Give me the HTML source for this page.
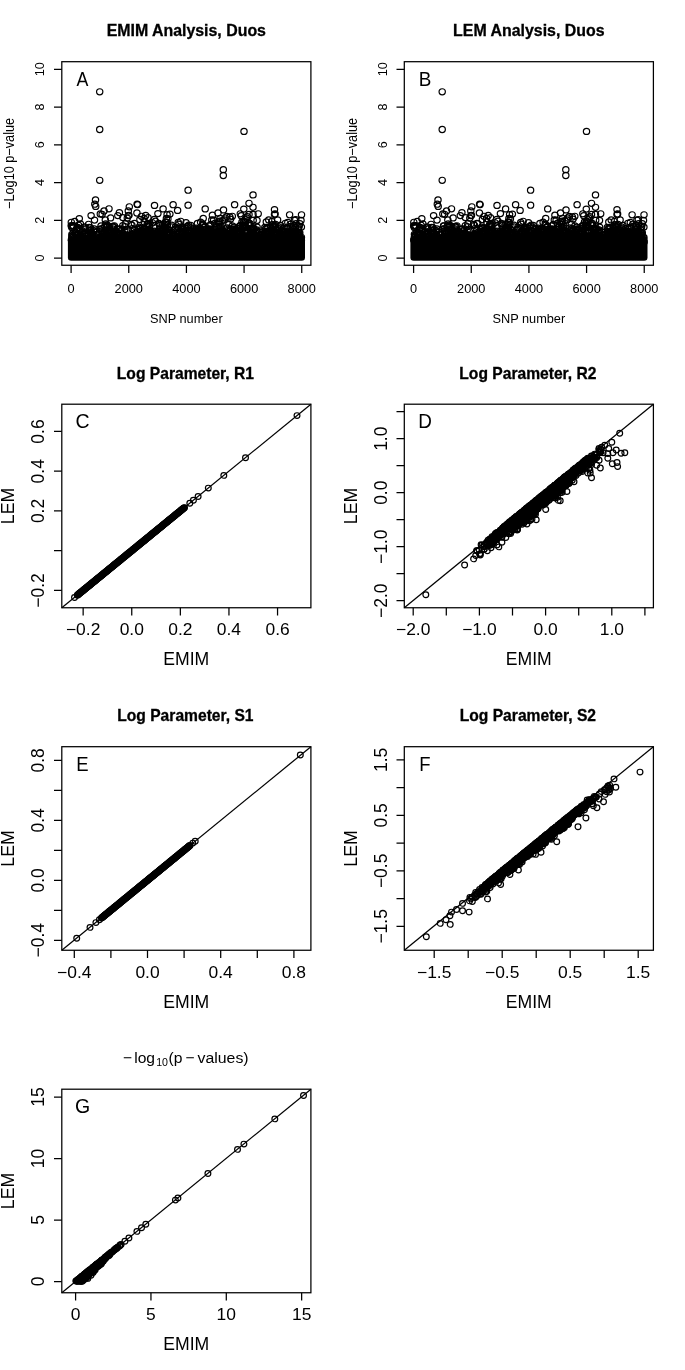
<!DOCTYPE html>
<html lang="en"><head><meta charset="utf-8"><title>EMIM vs LEM analysis, duos</title>
<style>html,body{margin:0;padding:0;background:#fff}svg{display:block}.l{fill:none;stroke:#000;stroke-width:1.25}.p{fill:none;stroke:none;marker-start:url(#c);marker-mid:url(#c);marker-end:url(#c)}.q{fill:none;stroke:none;marker-start:url(#d);marker-mid:url(#d);marker-end:url(#d)}text{font-family:'Liberation Sans', Arial, Helvetica, sans-serif;fill:#000}</style></head><body>
<svg width="685" height="1370" viewBox="0 0 685 1370">
<rect width="685" height="1370" fill="#fff"/>
<defs><marker id="c" markerUnits="userSpaceOnUse" markerWidth="10" markerHeight="10" refX="5" refY="5"><ellipse cx="5" cy="5" rx="3.15" ry="3.05" fill="none" stroke="#000" stroke-width="1.2"/></marker><marker id="d" markerUnits="userSpaceOnUse" markerWidth="10" markerHeight="10" refX="5" refY="5"><ellipse cx="5" cy="5" rx="2.9" ry="2.85" fill="none" stroke="#000" stroke-width="1.2"/></marker></defs>
<rect x="67.9" y="237" width="237.1" height="23.7" rx="3.3" ry="3.3" fill="#000"/>
<polyline class="p" points="71.2,225.7 71.3,222.3 71.4,239.8 71.6,226.1 71.6,240.4 71.8,237.7 71.9,234.3 72.3,235.4 72.3,236.2 72.7,226.2 73.3,236.8 73.4,225.7 74.2,238.4 74.2,237.9 74.9,241.1 75.4,241.7 75.5,232.7 75.7,233.9 76.3,237.1 76.8,228.6 76.9,235.7 77.2,241.9 77.7,234.9 77.8,227.4 78.5,225.2 78.8,240.3 78.9,239.5 79.3,236.5 79.4,230.1 79.5,238.2 79.5,240.9 79.6,238.8 79.6,228.7 79.7,240.7 79.8,238.4 79.8,235.7 80,236.9 80.1,231.3 80.4,224 80.8,239 81.2,237 81.3,240.5 81.4,240 82.3,240.3 82.3,241.8 82.6,231 82.9,232.2 83,238.5 83.4,239.8 83.7,227.8 84.1,241.6 84.3,234 84.7,226.9 84.9,241.3 85.3,236.1 85.4,234.4 85.5,233.4 85.6,240.1 85.6,241.4 85.7,228.9 85.7,239.1 86.2,241.3 86.5,239.4 87,235.2 87.1,241.3 87.5,241.6 88.2,239.7 88.3,233.7 88.5,224.3 88.7,237.7 89.1,234.3 89.2,227.4 89.7,230.9 90.1,239.7 90.1,232.3 90.4,227.7 90.5,230.1 90.5,237.4 90.6,234.3 90.8,241.3 90.9,236 90.9,240.8 91,237.2 91.7,234.1 91.9,232.8 92,240.2 92.7,236.8 92.8,238.5 92.9,236.5 93.2,239.2 93.4,230.6 93.9,230.9 94.1,235.3 94.3,229 94.5,220.1 94.6,240.1 95.2,237.6 95.3,239.6 95.7,241.4 96.2,232.2 96.5,240.6 96.8,234.4 97,240.9 97.4,241.7 98.6,240.3 98.9,241.6 98.9,240.6 99,241.2 99.3,238.2 99.4,240.9 99.6,239.8 99.7,229.2 99.8,240.6 100,241.6 100.1,233.3 100.5,238.6 100.9,240.2 101,225.9 101.5,239.1 101.9,228.7 101.9,232.6 102,239.4 102,230.7 102.1,214.3 102.3,236.4 102.4,238 102.7,238.5 103.1,233.6 103.4,236.5 103.4,238.2 103.4,241.5 103.6,241.7 104.1,233.9 104.2,235.3 104.2,236.7 104.3,239.3 104.7,236.5 104.8,226.5 105.6,241.4 105.7,223.9 105.8,239.5 105.9,241.2 106.6,227.5 106.8,226.5 107.1,225 107.2,238.1 107.6,237.6 108.6,237.7 108.7,234.6 108.8,241 108.8,229.6 109,240.6 109.3,240.1 109.3,227 109.3,229.9 109.5,241.8 109.6,233.6 109.7,239.4 110.1,231.5 110.3,236.3 110.5,233.5 110.7,241.1 111,237.7 111.2,235.5 111.8,241.1 112.2,240.7 112.3,241.4 112.4,238.4 112.5,226.5 112.5,228.9 112.7,234.1 113,236.8 113,227.3 113.2,236.6 113.3,233.7 113.5,226.3 113.6,239 114.2,237.5 114.4,241.9 114.4,225.8 114.6,230.7 114.9,233.1 115.2,235.8 115.6,239.8 115.8,236 116.2,237.1 116.7,232 116.8,241.7 117,234.1 117.2,241.9 117.2,232.5 117.6,238.2 118.3,241.8 118.8,229.1 118.8,235.8 119,241.4 119.5,231.8 119.9,228.9 120.1,233.7 120.7,240.5 121.1,237.6 121.4,241.4 121.5,236.8 121.6,229.9 122.1,239.5 122.1,238 122.3,233.1 122.6,240.2 122.8,225.6 123.4,234.2 123.5,240.5 123.8,235 124.2,237.5 124.3,238.7 124.6,235.6 124.6,241.6 124.7,230.4 124.8,226.7 124.8,237.7 124.9,241.6 125.2,235.1 125.4,223.7 125.9,241.8 126.6,239.2 126.8,238.7 126.9,238.9 127.3,218.1 127.4,235 127.7,239.9 127.8,235.6 127.9,230.8 128.6,240.2 128.8,241.6 129,215.3 129.3,238.4 129.5,236.5 129.7,241.6 129.7,240.2 130.5,236.8 130.5,240.4 131,224.5 131.2,240.3 131.4,237.8 131.5,235.2 131.6,234.1 132,225.3 132.1,241.3 132.2,228.7 132.4,240.3 132.4,234.8 132.4,236.2 132.6,233.9 132.7,239.7 133,241.5 134.4,237.1 134.4,223.5 134.6,229.4 134.8,239.9 134.8,238.6 135.1,240.3 135.2,232.5 135.6,235.7 135.9,236.5 136.7,233.2 136.9,240 137.6,238.3 137.7,238.7 138.2,240.5 138.2,229.5 138.8,237 139,240.6 139.1,227.2 139.3,232.2 139.8,240.9 139.9,228.5 139.9,219.5 139.9,231.3 140.6,230.6 140.8,237.6 141.1,240.5 141.2,232.9 141.2,234.7 141.4,236.9 141.6,230.9 141.8,241.4 141.9,238.5 142.6,241.5 142.6,234 142.7,238.9 142.8,229.6 143,233.7 143.3,241.5 143.6,238.6 143.9,229.5 144,239.2 144.1,228.4 144.1,218.5 144.2,222 144.5,241.7 144.7,234.4 145,234.8 145.1,236.8 145.5,235.9 145.7,235.9 145.7,215.5 145.7,239.6 146.2,240.9 146.3,239.3 146.7,238.3 146.8,235.6 146.9,227.8 146.9,226.5 147,230.9 147.2,224.1 147.3,240.5 147.6,234.8 147.6,239.4 147.7,240.9 147.9,234.9 148.1,224.1 148.2,238.5 148.3,233.6 148.4,238.9 148.6,224.1 148.7,229.9 149.1,234.8 149.2,225.3 149.2,241.7 149.3,238.5 149.5,236.8 149.6,226.2 149.7,230.2 150.3,238.7 150.5,234.5 150.5,231.7 150.6,235.9 151.2,240.5 151.4,233.7 151.8,238.6 152,238.2 152.1,238.9 152.1,241.9 152.3,231.3 152.5,222.8 152.8,232.6 153.2,238.6 153.3,237 153.6,234.8 153.9,233.6 154,241.6 154.3,219.4 154.4,231.2 154.4,241.4 154.6,240.7 154.8,235.8 154.8,240.1 155.2,241.2 155.4,221.2 155.5,239.7 155.8,236.8 156.3,241.2 156.8,235.2 156.8,236.6 156.9,233.3 156.9,240.4 157.1,241.6 157.2,235.9 157.6,240.9 157.7,236.8 158.1,231.3 158.7,234.2 158.7,232.2 158.9,223.4 159,240.7 159,237 159.3,224.2 159.4,237.4 159.5,238.2 159.6,241.3 159.6,238.1 159.6,225.6 159.8,228 159.8,236.7 160,237.4 160.2,231.2 160.4,241.6 160.6,237.1 160.9,234 161.2,236.2 161.2,237.8 161.5,238.1 161.6,233.9 161.7,230.4 161.8,236.1 162.3,234.3 162.7,224.8 162.7,230.3 162.8,240.9 163.1,239.6 163.4,229 163.7,228 163.9,230 164,234.6 164.4,236.9 164.4,225 164.6,240.7 164.8,236.4 164.9,238.1 165,227 165.1,229.4 165.2,235.5 165.4,238 165.5,222.4 165.7,221.9 166,230.4 166,229.9 166.4,218.5 166.6,222.3 167,232.1 167,232.9 167.1,214.6 167.3,239.2 167.4,224.9 167.7,235.2 167.8,240 167.9,218.9 167.9,229.2 168.4,233.6 168.4,239.5 168.5,235.4 168.8,234.6 169,239 169.1,234 169.4,241.6 169.6,241.1 169.6,232.9 169.8,238.7 169.9,214.1 170,233.5 170.1,240.7 170.4,241.2 170.6,241.8 170.9,240.3 170.9,240.9 171.1,238.5 171.3,239.2 171.5,225.1 171.7,227 172.1,238.7 172.2,240.9 172.4,232.9 172.5,239.1 172.5,234.2 173.8,240.4 173.9,236.3 174.1,229.9 174.1,241.9 174.3,237.7 174.4,240.6 174.5,235.9 175.1,228.9 175.1,239.3 175.3,238.3 175.4,227.1 176.1,238.3 176.9,240.2 177.1,236.7 177.1,234.7 177.2,239.3 177.3,241 177.5,237.6 177.9,239.5 178.2,222.4 178.3,241.8 178.3,237.2 178.6,228.2 178.8,239.9 178.8,224.2 178.9,236.9 179,232.2 179.2,240.4 180,241.4 180.1,240.7 180.2,238.8 180.2,240 180.3,232.1 180.7,221.3 181.1,239.9 181.2,238.3 181.2,240.6 181.4,240.9 181.7,231.7 182,227.6 182.1,230 182.3,231.5 182.3,233.7 182.4,228.3 182.5,237.3 183,237.9 183.6,229.5 183.7,241.5 184.2,227.3 184.3,232.5 184.5,239.3 184.8,235.7 185.6,231 185.7,241.3 185.8,241.6 186,222.6 186.1,233.3 186.7,226.6 187.3,240.2 187.7,235 187.8,230.8 188.1,226.3 188.1,232.8 188.4,240 188.6,225.2 188.7,237.4 189.2,236.5 189.2,240.1 189.3,238.8 189.6,238.2 189.6,230.9 189.8,230.4 190.2,235.4 190.3,235.1 190.8,237.9 190.8,225.5 190.9,241 191.1,228 191.3,236.9 191.4,241.1 191.5,238.2 191.8,237.8 191.8,240.7 192.1,239.8 192.6,240.7 192.7,241.2 192.7,229.1 192.9,233.9 193.2,235.9 193.2,236.2 193.3,233.1 193.8,236.7 193.8,234.7 193.9,235.8 193.9,239 194.1,231.4 194.6,235.3 194.8,241.5 194.9,238.1 194.9,239.7 195.3,233.9 195.6,232.7 195.8,234.6 196,229.7 196,228.1 196.5,232 196.8,239.4 196.8,240.6 197.1,236.3 197.4,235 197.4,223.5 197.6,239.8 197.6,241.2 197.8,239.2 197.9,231.9 198,229.8 198,234.3 198.2,236.3 198.3,231.6 198.4,237.4 198.8,233.9 198.9,240.4 198.9,228.9 199.1,230.4 199.9,238.7 200.1,238.9 200.5,237.7 200.6,222.2 200.7,230.7 200.7,235.8 201.1,241.4 201.2,240.3 201.4,237.3 201.5,236.2 202.3,234.9 202.4,241.4 202.7,223.9 202.9,238.9 203,235.1 203,235.7 203.2,234.4 203.2,218.5 203.3,225.1 203.6,229.3 203.9,237.2 204,227.4 204.2,241.4 204.3,234.1 204.4,233.8 204.6,231.3 204.7,240.8 204.7,234.7 204.8,236.7 205,226.4 205.3,239.4 205.7,234.2 205.8,239.6 205.9,229.5 205.9,233.5 206.2,238.3 206.6,235.6 207.3,231 207.9,236.1 208.4,233.9 208.5,236.1 208.6,232.1 208.8,241.2 208.9,225.9 209.1,231 209.1,230.1 209.4,228.8 209.5,234.5 209.5,237.5 209.7,235.9 209.7,241.5 209.8,239.3 210.1,229.4 210.5,239.3 210.7,232.1 210.8,241.7 210.8,239.7 210.9,224.4 211,235.9 211.5,239.4 211.8,220 212,236.3 212.1,230 212.2,241.4 212.4,215.2 212.5,232.7 212.6,237.3 212.7,232.3 212.8,240.5 213.1,231.8 213.3,235.2 213.6,220.1 214,239.3 214.1,234.6 214.3,241.3 214.7,235.2 214.8,229.6 215.1,223.2 215.2,236.6 215.3,237.4 215.5,234.3 215.7,232.9 215.9,233.3 215.9,237.8 216,226.7 216,238.6 216.4,236.5 216.5,238.4 216.6,234.5 216.7,227.3 216.7,232.7 217.1,234.3 217.1,235.3 217.2,241.7 217.4,240.9 218.2,232.4 218.2,235.3 218.4,222.2 218.5,231.4 218.8,228 218.9,234.5 219,223.9 219.2,226.8 219.3,235.6 219.5,241 219.7,221.1 219.8,237.7 220,218.5 220.3,236.8 220.5,227.4 220.7,241.8 220.9,231.6 221.2,226.5 221.4,238.1 221.7,240.7 221.9,232.9 221.9,241.7 222.3,230.2 222.4,220.6 223.2,231.1 223.8,238 224.3,219.9 224.3,235 224.5,236.1 224.8,237.6 225.1,218 225.3,234.2 225.4,236.9 225.6,231.9 225.7,233.4 225.9,238.3 226.2,239.4 226.3,236.6 226.6,240.2 226.9,216.4 227,228 227.7,235.8 228,240.2 228.5,240.5 228.5,234.9 228.8,224.5 228.9,228.7 228.9,237.6 228.9,235.4 229.4,231.5 229.8,217 230,237.9 230.1,239.3 230.2,234.9 230.3,240.4 230.4,229.2 230.5,238.7 230.6,237.6 230.7,240.8 230.8,236.1 230.9,238.1 231.6,239.1 231.6,235.7 231.7,240.2 231.8,235.1 232.2,235.9 232.3,225.9 232.3,216.3 232.5,229.4 232.6,239.5 232.8,236.7 233,233.9 233.1,232 233.6,239.1 233.8,229.6 233.8,232.9 234.1,241.8 234.2,227.1 234.3,236.1 234.4,228.9 234.6,239.4 234.8,236.2 235.3,230.1 235.5,238.8 235.7,240.8 235.7,239.7 236.5,238.3 236.7,234.4 236.9,241.8 237.4,241.6 237.4,231.9 237.8,233.1 237.8,237.4 237.9,240 238.3,236.5 238.3,232.9 238.5,234.4 238.8,231.5 239.2,234.1 239.2,231 239.5,226.2 239.7,236.9 240,236.2 240,241.9 240,228.1 240.2,241.8 240.3,213.8 240.4,226 240.6,225.1 240.7,240.4 240.9,239.6 241,234.8 241.1,236.3 241.3,239.2 241.5,238.1 241.5,237.1 241.5,229 242,222 242.8,241.9 242.9,239.6 243,237.9 243.2,227 243.2,241.9 243.2,224.9 243.4,240.7 243.7,240.4 243.8,238.3 243.8,221.2 243.9,237 244.1,221.7 244.1,236.5 244.3,226.2 244.4,227.6 244.6,237.7 244.7,241.8 244.9,225.6 245.6,222 245.7,232 245.8,227.4 245.8,230 246.2,240 246.3,218 246.9,227.7 247,238.4 247.3,216.6 247.4,235.8 247.5,231.7 247.6,241.1 247.7,239.4 247.9,236.5 248.3,241.7 248.4,224.9 248.6,237.5 248.7,223 248.8,239.8 248.9,232.2 249,241 249.1,238.3 249.2,240.2 249.3,235.9 249.5,237.1 249.9,225.6 250,223.7 250.1,229.4 250.5,229.7 250.6,236 250.9,228.3 251.6,228.3 251.6,233.6 252.4,232.2 252.8,239.1 252.9,234.2 253.1,237 253.2,220.3 253.3,232.6 253.3,231.9 253.5,229.1 253.5,227.9 253.6,237.1 253.6,239.4 254.3,234.3 254.3,237.7 254.3,238.1 254.5,240.4 254.6,241.1 255.1,238.6 255.2,241 256.1,236.4 256.2,233.1 256.4,231.2 256.6,240.7 256.7,230 256.8,230.8 257,220.4 257.1,227.1 257.1,238.6 258.3,236.7 258.8,234.6 259.2,232.1 259.6,241.5 259.9,237.4 259.9,239.9 259.9,240.5 260.9,234.5 261.1,236 261.1,234.6 261.5,240.9 261.7,240.4 262,237.9 262.1,239.2 262.3,238.2 262.6,234.3 262.7,231.8 262.8,241.5 262.9,240.9 263.3,238.3 264,237.5 264.2,240.2 264.3,236.1 264.7,241.7 264.8,241 264.8,227.5 265,238.8 265.4,239.3 265.5,231.4 265.6,239.7 265.6,228.9 266,237.3 266.3,222 266.5,232.7 266.8,233.9 266.9,241.4 266.9,227.4 267.2,238.2 267.3,234.6 267.4,238.8 267.5,237.7 267.6,236.4 267.7,228.4 267.8,241.6 267.9,239.9 268.4,239.7 268.5,231.5 268.6,240.2 268.6,237.3 268.7,219.9 268.8,230.6 269.2,231.8 269.3,236.1 269.5,234.6 269.5,241.7 269.7,237.4 270.3,241.2 270.5,238.8 270.7,238.2 271,241.5 271.1,240.3 271.3,233.6 271.4,230.3 271.7,228.7 271.8,221.4 272.1,237.9 272.2,236.4 272.3,231.9 272.5,224.6 272.7,226.1 272.7,239.9 273.1,239.8 273.3,226.9 273.4,230.1 273.7,233.4 273.7,235.8 273.8,237.3 273.9,234.6 274,241.5 274.2,225.4 274.3,239.5 274.9,241.1 275.1,214 275.2,227.9 275.6,224.4 276,229.6 276.7,231.8 276.8,233.4 276.9,234.2 277,238.4 277.1,239 277.3,241.1 277.6,220 277.8,238.2 278.2,239.8 278.5,237.3 278.7,241 278.9,227 279,230.3 279.1,239.7 279.1,228.8 279.1,237.5 279.2,238.1 279.3,237 279.5,228.9 279.7,232.1 279.8,241.9 280,232.7 280.4,241.3 280.6,225.5 281,231.5 281.1,239.3 281.1,237.7 281.7,231.8 282,241.7 282.1,231.8 282.5,234.6 282.7,236.6 282.7,241.6 282.9,231.1 283.1,228.7 283.5,239.3 283.6,241.5 283.6,232 283.7,235.8 283.8,234.4 283.8,239.4 284.2,234.8 284.9,240.2 285,235.4 285.2,240 285.3,223.3 285.8,241.2 285.9,231.4 285.9,234 286.1,234.6 286.2,235.6 286.3,233.1 286.5,237.3 286.5,237.2 286.8,236.4 286.9,227.3 286.9,235.5 286.9,239.7 287.1,237.3 287.2,235.7 287.6,239.2 287.7,228.2 287.8,222.5 287.8,237.5 288,232.5 288.3,233.9 288.7,241 289.4,232.3 289.6,214.8 289.7,238.5 289.8,241.9 289.9,241.4 290.2,224.3 290.6,235.5 290.7,226.5 290.8,234 290.9,240.2 291,238.4 291.5,240.2 291.6,237 291.6,238.2 291.7,235.5 291.9,241.2 292.4,232.2 292.5,227.9 292.5,238.8 292.6,235 292.9,241.2 293.3,235.5 293.4,230 293.5,235.2 293.8,238.4 293.9,232.3 293.9,240 294,226 294,241.3 294.2,235.4 294.3,238.8 294.3,234.4 294.4,220.1 294.7,240.1 295.2,227.5 295.2,237.3 295.3,231.5 295.3,239.4 295.5,240.5 295.5,231.2 295.6,236.9 296.1,223.7 296.2,232 297.1,238.3 297.2,236.4 297.9,240.5 298,235.7 298.2,230 298.3,238.5 298.5,241.3 298.5,227.8 298.6,237.4 298.8,235.7 298.8,233.8 298.9,234.9 299.1,226.4 299.1,241.7 299.2,233.5 299.3,239.9 299.8,223.7 299.8,233 300,240.3 300.3,240 300.9,238.1 301,239.4 301,241.9 301.4,227.1 301.4,237.5 301.5,214.8 99.7,91.8 99.7,129.5 99.7,180.3 244,131.4 95.5,199.9 94.8,204.2 95.7,206.4 100.3,213.9 104,211 109,208.8 79.3,218.6 74.7,221.5 71.8,227.5 91.1,215.6 105.3,220 110.6,217.9 119.4,212.6 117.8,215.6 122.8,217.6 129.3,206.8 137.1,204.2 137.6,204.6 128.3,211 128.3,215.6 136.9,213 141.5,216.3 148,217.6 223.3,169.7 223.3,175.5 188.1,190.2 188.1,205.2 253,194.9 249,203.3 253,207.3 234.6,204.7 223.5,209.9 218,213 205.2,208.9 173.1,204.7 177.6,210.4 154.5,205.4 163.1,208.9 157.9,213.6 243.8,209.1 274.5,209.6 274.5,214.4 258.2,213.8 295.8,219.6 301,220.4 230.6,219.1 241.2,215.7 245.1,219.6 249,214.4 253,214.4"/>
<rect x="61.8" y="61.7" width="249.1" height="203.55" class="l"/>
<path d="M71.1 265.25v7.8M128.76 265.25v7.8M186.42 265.25v7.8M244.08 265.25v7.8M301.74 265.25v7.8" class="l"/>
<text transform="translate(71.1 292.8) scale(0.998 1)" font-size="12.8" text-anchor="middle">0</text>
<text transform="translate(128.76 292.8) scale(0.998 1)" font-size="12.8" text-anchor="middle">2000</text>
<text transform="translate(186.42 292.8) scale(0.998 1)" font-size="12.8" text-anchor="middle">4000</text>
<text transform="translate(244.08 292.8) scale(0.998 1)" font-size="12.8" text-anchor="middle">6000</text>
<text transform="translate(301.74 292.8) scale(0.998 1)" font-size="12.8" text-anchor="middle">8000</text>
<path d="M61.8 258h-7.8M61.8 220.26h-7.8M61.8 182.52h-7.8M61.8 144.78h-7.8M61.8 107.04h-7.8M61.8 69.3h-7.8" class="l"/>
<text transform="translate(44.4 258) scale(1.05 1) rotate(-90)" font-size="12.6" text-anchor="middle">0</text>
<text transform="translate(44.4 220.26) scale(1.05 1) rotate(-90)" font-size="12.6" text-anchor="middle">2</text>
<text transform="translate(44.4 182.52) scale(1.05 1) rotate(-90)" font-size="12.6" text-anchor="middle">4</text>
<text transform="translate(44.4 144.78) scale(1.05 1) rotate(-90)" font-size="12.6" text-anchor="middle">6</text>
<text transform="translate(44.4 107.04) scale(1.05 1) rotate(-90)" font-size="12.6" text-anchor="middle">8</text>
<text transform="translate(44.4 69.3) scale(1.05 1) rotate(-90)" font-size="12.6" text-anchor="middle">10</text>
<text transform="translate(186.3 36.05) scale(0.982 1)" font-size="16.2" text-anchor="middle" font-weight="bold" stroke="#000" stroke-width="0.3">EMIM Analysis, Duos</text>
<text transform="translate(186.3 322.7) scale(0.998 1)" font-size="12.8" text-anchor="middle">SNP number</text>
<text transform="translate(14.1 163.4) scale(1.08 1) rotate(-90)" font-size="12.7" text-anchor="middle">−Log10 p−value</text>
<text transform="translate(82.5 85.8) scale(0.85 1)" font-size="21" text-anchor="middle">A</text>
<rect x="410.4" y="237" width="237.1" height="23.7" rx="3.3" ry="3.3" fill="#000"/>
<polyline class="p" points="413.7,225.7 413.8,222.3 413.9,239.8 414.1,226.1 414.1,240.4 414.3,237.7 414.4,234.3 414.8,235.4 414.8,236.2 415.2,235.3 415.2,226.2 415.8,236.8 415.9,225.7 416.7,238.4 416.7,237.9 417.4,241.1 417.9,241.7 418,232.7 418.2,233.9 418.8,233.9 418.8,237.1 419.3,228.6 419.4,235.7 419.7,241.9 420.2,234.9 420.3,227.4 421,225.2 421.3,240.3 421.4,239.5 421.8,236.5 421.9,230.1 422,238.2 422,240.9 422.1,238.8 422.1,228.7 422.2,240.7 422.3,238.4 422.3,235.7 422.5,236.9 422.6,231.3 422.9,224 423.3,239 423.7,237 423.8,240.5 423.9,240 424.3,239.9 424.8,240.3 424.8,241.8 425.1,231 425.4,232.2 425.5,238.5 425.9,239.8 426.2,227.8 426.6,241.6 426.8,234 427.2,226.9 427.4,241.3 427.8,236.1 427.9,234.4 428,233.4 428.1,240.1 428.1,241.4 428.2,228.9 428.2,239.1 428.7,241.3 429,239.4 429.5,235.2 429.6,241.3 430,241.6 430.7,239.7 430.8,233.7 431,224.3 431.2,237.7 431.6,234.3 431.7,227.4 432.2,230.9 432.6,239.7 432.6,232.3 432.9,227.7 433,230.1 433,237.4 433.1,234.3 433.3,241.3 433.4,236 433.4,240.8 433.5,237.2 434.2,234.1 434.4,232.8 434.5,240.2 435.2,236.8 435.3,238.5 435.4,236.5 435.7,239.2 435.9,230.6 436.4,230.9 436.6,235.3 436.8,229 437,220.1 437.1,240.1 437.7,237.6 437.8,239.6 438.2,241.4 438.2,241.2 438.7,232.2 439,240.6 439.3,234.4 439.5,240.9 439.9,241.7 441.1,240.3 441.4,241.6 441.5,241.2 441.8,238.2 441.9,240.9 442.1,239.8 442.2,229.2 442.3,240.6 442.5,241.6 442.6,233.3 443,238.6 443.4,240.2 443.5,225.9 443.8,225.9 444,239.1 444.4,228.7 444.4,232.6 444.5,239.4 444.5,230.7 444.6,214.3 444.8,236.4 444.9,238 445.2,238.5 445.6,233.6 445.9,236.5 445.9,241.5 446,236.3 446.1,241.7 446.6,233.9 446.7,235.3 446.7,236.7 446.8,239.3 447.2,236.5 447.3,226.5 448.1,241.4 448.2,223.9 448.3,239.5 449.1,227.5 449.3,226.5 449.6,225 449.7,238.1 450.1,237.6 451.1,237.7 451.2,234.6 451.3,241 451.3,229.6 451.5,240.6 451.8,240.1 451.8,227 451.8,229.9 452,241.8 452.1,233.6 452.2,239.4 452.3,233.5 452.6,231.5 452.8,236.3 453,233.5 453.2,241.1 453.5,237.7 453.6,241.3 453.7,235.5 453.8,237.5 454.7,240.7 454.8,241.4 454.9,238.4 455,226.5 455,228.9 455.2,234.1 455.5,236.8 455.5,227.3 455.7,236.6 455.8,233.7 456,226.3 456.1,239 456.7,237.5 456.9,241.9 456.9,225.8 457.1,230.7 457.4,233.1 457.7,235.8 458.1,239.8 458.3,236 458.7,237.1 459.2,232 459.3,241.7 459.5,234.1 459.7,232.5 460.1,238.2 460.8,241.8 461.3,229.1 461.3,235.8 461.4,241.8 461.5,241.4 462,231.8 462.4,228.9 462.6,233.7 463.2,240.5 463.6,237.6 463.9,241.4 464,236.8 464.1,229.9 464.6,239.5 464.6,238 464.8,233.1 465.1,240.2 465.3,225.6 465.9,234.2 466,240.5 466.3,235 466.7,237.5 466.8,238.7 467.1,235.6 467.1,241.6 467.2,230.4 467.3,226.7 467.3,237.7 467.7,235.1 467.9,223.7 468.4,241.8 469.1,239.2 469.3,238.7 469.8,218.1 469.9,235 470.2,239.9 470.3,235.6 470.4,230.8 471.1,240.2 471.3,241.6 471.5,215.3 471.8,238.4 471.9,238.3 472,236.5 472.2,241.6 472.2,240.2 473,236.8 473,240.4 473.5,224.5 473.7,240.3 473.9,237.8 474,235.2 474.1,234.1 474.5,225.3 474.6,241.3 474.7,228.7 474.9,240.3 474.9,234.8 474.9,236.2 475.1,233.9 475.2,239.7 475.5,241.5 476.9,237.1 476.9,223.5 477.1,229.4 477.3,239.9 477.3,238.6 477.6,223.7 477.6,240.3 477.7,232.5 478.1,235.7 478.4,236.5 479.2,233.2 479.4,240 480.1,238.3 480.2,238.7 480.7,240.5 480.7,229.5 481.3,237 481.5,240.6 481.6,227.2 481.8,232.2 482.3,240.9 482.4,228.5 482.4,219.5 482.4,231.3 483.1,230.6 483.3,237.6 483.6,240.5 483.7,232.9 483.7,234.7 483.7,240.2 483.9,236.9 484.1,230.9 484.3,241.4 484.4,238.5 485.1,241.5 485.1,234 485.2,238.9 485.3,229.6 485.5,233.7 485.8,241.5 486.1,238.6 486.4,229.5 486.5,239.2 486.6,228.4 486.6,238.8 486.6,218.5 486.7,222 487,241.7 487.2,234.4 487.5,234.8 487.6,236.8 488,237.1 488,235.9 488.2,215.5 488.2,239.6 488.7,240.9 488.8,239.3 489.2,238.3 489.3,235.6 489.4,227.8 489.4,226.5 489.5,230.9 489.7,224.1 489.8,240.5 490.1,234.8 490.1,239.4 490.2,240.9 490.6,224.1 490.7,238.5 490.8,233.6 490.9,238.9 491.1,224.1 491.2,229.9 491.6,234.8 491.7,225.3 491.7,241.7 491.8,238.5 492,236.8 492.1,226.2 492.2,230.2 492.8,238.7 493,234.5 493,231.7 493.1,235.9 493.7,240.5 493.9,233.7 494.3,238.6 494.6,238.9 494.6,241.9 494.8,231.3 495,222.8 495.3,232.6 495.7,238.6 495.8,237 496.1,234.8 496.4,233.6 496.5,241.6 496.8,219.4 496.9,231.2 496.9,241.4 497.1,240.7 497.3,235.8 497.7,241.2 497.9,221.2 498,239.7 498.3,236.8 498.8,241.2 499.3,235.2 499.3,236.6 499.4,233.3 499.4,240.4 499.6,241.6 499.7,235.9 500,235.9 500.1,240.9 500.2,236.8 500.6,231.3 501.2,234.2 501.2,232.2 501.4,223.4 501.5,240.7 501.5,237 501.8,224.2 501.9,237.4 502,238.2 502.1,241.3 502.1,225.6 502.3,228 502.3,236.7 502.7,231.2 502.9,241.6 503.1,237.1 503.4,234 503.7,236.2 503.7,237.8 504,238.1 504.1,233.9 504.2,230.4 504.3,236.1 504.8,234.3 505.2,224.8 505.2,230.3 505.3,240.9 505.6,239.6 505.9,229 506.2,228 506.4,230 506.5,234.6 506.9,236.9 506.9,225 507.1,240.7 507.3,236.4 507.4,238.1 507.5,227 507.6,229.4 507.7,235.5 507.9,238 508,222.4 508.2,221.9 508.5,230.4 508.5,229.9 508.9,218.5 509.1,222.3 509.5,232.1 509.5,232.9 509.6,214.6 509.8,233 509.8,239.2 509.9,224.9 510.2,235.2 510.3,240 510.4,218.9 510.4,229.2 510.9,233.6 511,235.4 511.3,234.6 511.5,239 511.6,234 511.7,234.7 511.9,241.6 512.1,241.1 512.1,232.9 512.3,238.7 512.4,214.1 512.5,233.5 512.6,240.7 512.9,241.2 513.1,241.8 513.3,240.2 513.4,240.9 513.6,238.5 513.8,239.2 514,225.1 514.2,227 514.6,238.7 514.7,240.9 514.9,232.9 515,234.2 515.3,234.2 516.3,240.4 516.4,236.3 516.6,229.9 516.6,241.9 516.6,240.1 516.8,237.7 517,235.9 517.6,228.9 517.6,239.3 517.8,238.3 517.9,227.1 518.6,238.3 519.4,240.2 519.6,236.7 519.6,234.7 519.7,239.3 519.8,241 520,237.6 520.2,235.1 520.4,239.5 520.7,222.4 520.8,241.8 520.8,237.2 521.1,228.2 521.3,239.9 521.3,224.2 521.5,232.2 521.5,237.1 521.7,240.4 522.5,241.4 522.6,240.7 522.7,238.8 522.7,240 522.8,232.1 523,241 523.2,221.3 523.6,239.9 523.7,238.3 523.7,240.6 523.9,240.9 524.2,231.7 524.5,227.6 524.6,230 524.8,231.5 524.8,233.7 524.9,228.3 525,237.3 525.5,237.9 526.1,229.5 526.2,241.5 526.7,227.3 526.8,232.5 527,239.3 527.3,235.7 528.1,231 528.2,241.3 528.3,241.6 528.5,222.6 528.6,233.3 529.2,226.6 529.8,240.2 530.2,235 530.3,230.8 530.6,226.3 530.6,232.8 530.9,240 531.1,225.2 531.2,237.4 531.3,237.5 531.7,236.5 531.7,240.1 531.8,238.8 532.1,238.2 532.1,230.9 532.7,235.4 532.8,235.1 533.3,237.9 533.3,225.5 533.4,241 533.5,237.8 533.6,228 533.8,236.9 534,238.2 534.3,237.8 534.3,240.7 534.6,239.8 535.1,240.7 535.2,241.2 535.2,229.1 535.4,233.9 535.7,235.9 535.7,236.2 535.8,233.1 536.3,236.7 536.3,234.7 536.3,236.4 536.4,235.8 536.4,239 536.6,231.4 537,231.1 537.1,235.3 537.3,241.5 537.4,238.1 537.4,239.7 537.7,239.9 537.8,233.9 538.1,232.7 538.3,234.6 538.5,229.7 538.5,228.1 539,232 539.3,239.4 539.3,240.6 539.6,236.3 539.9,235 539.9,223.5 540.1,239.8 540.1,241.2 540.3,239.2 540.4,231.9 540.5,229.8 540.5,234.3 540.7,236.3 540.8,231.6 540.9,237.4 541.3,233.9 541.4,240.4 541.4,228.9 541.6,230.4 542.4,238.7 542.6,238.9 543,237.7 543.1,222.2 543.2,230.7 543.2,235.8 543.4,230.7 543.6,241.4 543.7,240.3 543.9,237.3 544,236.2 544.8,234.9 544.9,241.4 545.2,223.9 545.4,238.9 545.5,235.1 545.5,235.7 545.7,234.4 545.7,218.5 545.8,225.1 546.1,229.3 546.4,237.2 546.5,227.4 546.7,241.4 546.8,234.1 546.9,233.8 547.1,231.3 547.2,240.8 547.2,234.7 547.3,236.7 547.5,226.4 547.8,239.4 548.2,234.2 548.3,239.6 548.4,229.5 548.4,233.5 548.7,238.3 549.1,235.6 549.8,231 550.4,236.1 550.9,233.9 551,236.1 551.1,232.1 551.3,241.2 551.4,225.9 551.6,231 551.6,230.1 551.8,241.5 551.9,228.8 552,234.5 552,237.5 552.2,235.9 552.2,241.5 552.3,239.3 552.6,229.4 553,239.3 553.2,232.1 553.3,241.7 553.3,239.7 553.4,224.4 553.5,235.9 554,239.4 554.3,220 554.5,236.3 554.6,230 554.7,241.4 554.9,215.2 555,232.7 555.1,237.3 555.2,232.3 555.3,240.5 555.8,235.2 556.1,220.1 556.5,239.3 556.6,234.6 556.8,241.3 557.2,235.2 557.3,229.6 557.6,223.2 557.7,236.6 557.8,237.4 558,234.3 558.2,232.9 558.4,233.3 558.4,237.8 558.5,226.7 558.5,238.6 558.9,236.5 559,238.4 559.1,234.5 559.2,227.3 559.2,232.7 559.6,234.3 559.6,235.3 559.7,241.7 559.9,240.9 560.7,232.4 560.7,235.3 560.9,222.2 561,231.4 561.3,228 561.4,234.5 561.5,223.9 561.7,226.8 561.8,235.6 562,241 562.2,221.1 562.3,237.7 562.5,218.5 562.8,236.8 563,227.4 563.2,241.8 563.4,231.6 563.7,226.5 563.9,238.1 564.2,240.7 564.4,232.9 564.4,241.7 564.8,230.2 564.9,220.6 565.7,231.1 566.3,238 566.8,219.9 566.8,235 567,236.1 567.3,237.6 567.6,218 567.8,234.2 567.9,236.9 568.1,231.9 568.2,233.4 568.4,238.3 568.7,239.4 568.8,236.6 569.1,240.2 569.4,216.4 569.5,228 570.2,235.8 570.5,240.2 571,240.5 571,234.9 571.3,224.5 571.4,228.7 571.4,237.6 571.4,235.4 571.9,231.5 572.3,217 572.5,237.9 572.6,239.3 572.7,234.9 572.8,240.4 572.9,229.2 573,238.7 573.1,237.6 573.2,240.8 573.3,236.1 573.4,238.1 574.1,239.1 574.1,235.7 574.2,240.2 574.3,235.1 574.7,235.9 574.8,225.9 574.8,216.3 575,229.4 575.1,239.5 575.3,236.7 575.5,233.9 575.5,239.5 575.6,232 576.1,239.1 576.3,229.6 576.3,232.9 576.6,241.8 576.7,227.1 576.8,236.1 576.9,228.9 577.1,239.4 577.3,236.2 577.8,230.1 578,238.8 578.2,240.8 578.2,239.7 579,238.3 579.2,234.4 579.4,241.8 579.7,241.5 579.9,231.9 580.3,233.1 580.3,237.4 580.4,240 580.8,236.5 580.8,232.9 581,234.4 581.3,231.5 581.7,234.1 581.7,231 582,226.2 582.2,236.9 582.5,236.2 582.5,241.9 582.5,228.1 582.8,213.8 582.9,226 583.1,225.1 583.2,240.4 583.4,239.6 583.5,234.8 583.6,236.3 583.8,239.2 584,238.1 584,237.1 584,229 584.5,222 585.3,241.9 585.4,239.6 585.5,237.9 585.7,227 585.7,224.9 585.9,240.7 586.3,238.3 586.3,221.2 586.4,237 586.6,221.7 586.6,236.5 586.8,226.2 586.9,227.6 587.1,237.7 587.2,241.8 587.4,225.6 587.5,237.4 588.1,222 588.2,232 588.3,227.4 588.3,230 588.7,240 588.8,218 589.4,227.7 589.5,238.4 589.8,216.6 589.9,235.8 590,231.7 590.1,241.1 590.2,239.4 590.4,236.5 590.8,241.7 590.9,224.9 591.1,237.5 591.2,223 591.3,239.8 591.4,232.2 591.5,241 591.6,241.2 591.6,238.3 591.7,240.2 591.8,235.9 592,237.1 592.4,225.6 592.5,223.7 592.6,229.4 593,229.7 593.1,236 593.4,228.3 594.1,228.3 594.1,233.6 594.9,232.2 595.3,239.1 595.4,234.2 595.6,237 595.7,220.3 595.8,232.6 595.8,231.9 596,229.1 596,227.9 596.1,237.1 596.1,239.4 596.8,234.3 596.8,237.7 596.8,238.1 597,240.4 597.1,241.1 597.6,238.6 598.6,236.4 598.7,233.1 598.9,231.2 599.1,240.7 599.2,230 599.3,230.8 599.5,220.4 599.6,227.1 599.6,238.6 600.8,236.7 601.3,234.6 601.7,232.1 602.1,241.5 602.4,237.4 602.4,239.9 602.4,240.5 603.4,234.5 603.6,236 603.6,234.6 604,240.9 604.2,240.4 604.5,237.9 604.6,239.2 604.8,238.2 605.1,234.3 605.2,231.8 605.3,241.5 605.4,240.9 605.8,238.3 606.5,237.5 606.7,240.2 606.8,236.1 607.2,241.7 607.3,241 607.3,227.5 607.5,238.8 607.9,239.3 608,231.4 608.1,239.7 608.1,228.9 608.5,237.3 608.8,222 609,232.7 609.3,233.9 609.4,241.4 609.4,227.4 609.7,238.2 609.8,234.6 609.9,238.8 610,237.7 610.1,236.4 610.2,228.4 610.3,241.6 610.4,239.9 610.6,241.7 611,231.5 611.1,240.2 611.1,237.3 611.2,219.9 611.3,230.6 611.7,231.8 611.8,236.1 612,234.6 612,241.7 612.2,237.4 612.7,237.8 612.8,241.2 613,238.8 613.2,238.2 613.4,238.8 613.5,241.5 613.6,240.3 613.8,233.6 613.9,230.3 614.2,228.7 614.3,221.4 614.6,237.9 614.7,236.4 614.8,231.9 615,224.6 615.2,226.1 615.2,239.9 615.5,239.6 615.8,226.9 615.9,230.1 616.2,233.4 616.2,235.8 616.3,237.3 616.4,234.6 616.5,241.5 616.7,225.4 616.8,239.5 617.4,241.1 617.6,214 617.7,227.9 618.1,224.4 618.5,229.6 619.2,231.8 619.3,233.4 619.4,234.2 619.5,238.4 619.6,239 619.8,241.1 620.1,220 620.3,238.2 620.7,239.8 621,237.3 621.2,241 621.4,227 621.5,230.3 621.6,239.7 621.6,228.8 621.6,237.5 621.7,238.1 621.8,237 622,228.9 622.2,232.1 622.3,241.9 622.5,232.7 622.9,241.3 623.1,225.5 623.5,231.5 623.6,239.3 623.6,237.7 624.2,231.8 624.5,241.7 624.6,231.8 625,234.6 625.2,236.6 625.2,241.6 625.4,231.1 625.6,228.7 626,239.3 626.1,241.5 626.1,232 626.2,235.8 626.3,234.4 626.7,234.8 627.4,240.2 627.5,235.4 627.7,240 627.8,223.3 628.3,241.2 628.4,231.4 628.4,234 628.6,234.6 628.7,235.6 628.8,233.1 629,237.3 629,237.2 629.3,236.4 629.4,227.3 629.4,235.5 629.4,239.7 629.6,237.3 630.1,239.2 630.2,228.2 630.3,222.5 630.3,237.5 630.5,232.5 630.8,233.9 631.2,241 631.9,232.3 632.1,214.8 632.2,238.5 632.3,241.9 632.4,241.4 632.7,224.3 633.1,235.5 633.2,226.5 633.3,234 633.4,240.2 633.5,238.4 633.6,234 634,240.2 634.1,237 634.1,238.2 634.2,235.5 634.4,241.2 634.9,232.2 635,227.9 635,238.8 635.1,235 635.4,241.2 635.8,235.5 635.9,230 636.3,238.4 636.4,232.3 636.4,240 636.5,226 636.5,241.3 636.7,235.4 636.8,238.8 636.8,234.4 636.9,220.1 637.1,238.7 637.2,240.1 637.7,227.5 637.7,237.3 637.8,231.5 637.8,239.4 638,240.5 638.1,236.9 638.6,223.7 638.7,232 639.6,238.3 639.7,236.4 640.4,240.5 640.5,235.7 640.7,230 640.8,238.5 641,241.3 641,227.8 641.1,237.4 641.3,235.7 641.3,233.8 641.4,238.1 641.4,234.9 641.6,226.4 641.6,241.7 641.7,233.5 641.8,239.9 642.3,223.7 642.3,233 642.5,240.3 642.8,240 643.4,238.1 643.5,239.4 643.5,241.9 643.9,227.1 643.9,237.5 644,214.8 644.1,241.9 442.2,91.8 442.2,129.5 442.2,180.3 586.5,131.4 438,199.9 437.3,204.2 438.2,206.4 442.8,213.9 446.5,211 451.5,208.8 421.8,218.6 417.2,221.5 414.3,227.5 433.6,215.6 447.8,220 453.1,217.9 461.9,212.6 460.3,215.6 465.3,217.6 471.8,206.8 479.6,204.2 480.1,204.6 470.8,211 470.8,215.6 479.4,213 484,216.3 490.5,217.6 565.8,169.7 565.8,175.5 530.6,190.2 530.6,205.2 595.5,194.9 591.5,203.3 595.5,207.3 577.1,204.7 566,209.9 560.5,213 547.7,208.9 515.6,204.7 520.1,210.4 497,205.4 505.6,208.9 500.4,213.6 586.3,209.1 617,209.6 617,214.4 600.7,213.8 638.3,219.6 643.5,220.4 573.1,219.1 583.7,215.7 587.6,219.6 591.5,214.4 595.5,214.4"/>
<rect x="404.3" y="61.7" width="249.1" height="203.55" class="l"/>
<path d="M413.6 265.25v7.8M471.26 265.25v7.8M528.92 265.25v7.8M586.58 265.25v7.8M644.24 265.25v7.8" class="l"/>
<text transform="translate(413.6 292.8) scale(0.998 1)" font-size="12.8" text-anchor="middle">0</text>
<text transform="translate(471.26 292.8) scale(0.998 1)" font-size="12.8" text-anchor="middle">2000</text>
<text transform="translate(528.92 292.8) scale(0.998 1)" font-size="12.8" text-anchor="middle">4000</text>
<text transform="translate(586.58 292.8) scale(0.998 1)" font-size="12.8" text-anchor="middle">6000</text>
<text transform="translate(644.24 292.8) scale(0.998 1)" font-size="12.8" text-anchor="middle">8000</text>
<path d="M404.3 258h-7.8M404.3 220.26h-7.8M404.3 182.52h-7.8M404.3 144.78h-7.8M404.3 107.04h-7.8M404.3 69.3h-7.8" class="l"/>
<text transform="translate(386.9 258) scale(1.05 1) rotate(-90)" font-size="12.6" text-anchor="middle">0</text>
<text transform="translate(386.9 220.26) scale(1.05 1) rotate(-90)" font-size="12.6" text-anchor="middle">2</text>
<text transform="translate(386.9 182.52) scale(1.05 1) rotate(-90)" font-size="12.6" text-anchor="middle">4</text>
<text transform="translate(386.9 144.78) scale(1.05 1) rotate(-90)" font-size="12.6" text-anchor="middle">6</text>
<text transform="translate(386.9 107.04) scale(1.05 1) rotate(-90)" font-size="12.6" text-anchor="middle">8</text>
<text transform="translate(386.9 69.3) scale(1.05 1) rotate(-90)" font-size="12.6" text-anchor="middle">10</text>
<text transform="translate(528.8 36.05) scale(0.982 1)" font-size="16.2" text-anchor="middle" font-weight="bold" stroke="#000" stroke-width="0.3">LEM Analysis, Duos</text>
<text transform="translate(528.8 322.7) scale(0.998 1)" font-size="12.8" text-anchor="middle">SNP number</text>
<text transform="translate(356.6 163.4) scale(1.08 1) rotate(-90)" font-size="12.7" text-anchor="middle">−Log10 p−value</text>
<text transform="translate(425 85.8) scale(0.9 1)" font-size="21" text-anchor="middle">B</text>
<line x1="61.8" y1="607.75" x2="310.9" y2="404.2" class="l"/>
<polyline class="q" points="74.5,597.5 77.3,595.2 77.7,594.9 78.2,594.5 78.6,594.2 79,593.8 79.4,593.5 79.8,593.1 80.3,592.8 80.7,592.4 81.1,592.1 81.5,591.8 82,591.4 82.4,591.1 82.8,590.7 83.2,590.4 83.6,590 84.1,589.7 84.5,589.3 84.9,589 85.3,588.7 85.8,588.3 86.2,588 86.6,587.6 87,587.3 87.4,586.9 87.9,586.6 88.3,586.2 88.7,585.9 89.1,585.5 89.6,585.2 90,584.9 90.4,584.5 90.8,584.2 91.2,583.8 91.7,583.5 92.1,583.1 92.5,582.8 92.9,582.4 93.4,582.1 93.8,581.8 94.2,581.4 94.6,581.1 95,580.7 95.5,580.4 95.9,580 96.3,579.7 96.7,579.3 97.1,579 97.6,578.6 98,578.3 98.4,578 98.8,577.6 99.3,577.3 99.7,576.9 100.1,576.6 100.5,576.2 100.9,575.9 101.4,575.5 101.8,575.2 102.2,574.9 102.6,574.5 103.1,574.2 103.5,573.8 103.9,573.5 104.3,573.1 104.7,572.8 105.2,572.4 105.6,572.1 106,571.7 106.4,571.4 106.9,571.1 107.3,570.7 107.7,570.4 108.1,570 108.5,569.7 109,569.3 109.4,569 109.8,568.6 110.2,568.3 110.6,568 111.1,567.6 111.5,567.3 111.9,566.9 112.3,566.6 112.8,566.2 113.2,565.9 113.6,565.5 114,565.2 114.4,564.8 114.9,564.5 115.3,564.2 115.7,563.8 116.1,563.5 116.6,563.1 117,562.8 117.4,562.4 117.8,562.1 118.2,561.7 118.7,561.4 119.1,561.1 119.5,560.7 119.9,560.4 120.4,560 120.8,559.7 121.2,559.3 121.6,559 122,558.6 122.5,558.3 122.9,558 123.3,557.6 123.7,557.3 124.1,556.9 124.6,556.6 125,556.2 125.4,555.9 125.8,555.5 126.3,555.2 126.7,554.8 127.1,554.5 127.5,554.2 127.9,553.8 128.4,553.5 128.8,553.1 129.2,552.8 129.6,552.4 130.1,552.1 130.5,551.7 130.9,551.4 131.3,551.1 131.7,550.7 132.2,550.4 132.6,550 133,549.7 133.4,549.3 133.9,549 134.3,548.6 134.7,548.3 135.1,547.9 135.5,547.6 136,547.3 136.4,546.9 136.8,546.6 137.2,546.2 137.6,545.9 138.1,545.5 138.5,545.2 138.9,544.8 139.3,544.5 139.8,544.2 140.2,543.8 140.6,543.5 141,543.1 141.4,542.8 141.9,542.4 142.3,542.1 142.7,541.7 143.1,541.4 143.6,541 144,540.7 144.4,540.4 144.8,540 145.2,539.7 145.7,539.3 146.1,539 146.5,538.6 146.9,538.3 147.4,537.9 147.8,537.6 148.2,537.3 148.6,536.9 149,536.6 149.5,536.2 149.9,535.9 150.3,535.5 150.7,535.2 151.2,534.8 151.6,534.5 152,534.1 152.4,533.8 152.8,533.5 153.3,533.1 153.7,532.8 154.1,532.4 154.5,532.1 154.9,531.7 155.4,531.4 155.8,531 156.2,530.7 156.6,530.4 157.1,530 157.5,529.7 157.9,529.3 158.3,529 158.7,528.6 159.2,528.3 159.6,527.9 160,527.6 160.4,527.2 160.9,526.9 161.3,526.6 161.7,526.2 162.1,525.9 162.5,525.5 163,525.2 163.4,524.8 163.8,524.5 164.2,524.1 164.7,523.8 165.1,523.5 165.5,523.1 165.9,522.8 166.3,522.4 166.8,522.1 167.2,521.7 167.6,521.4 168,521 168.4,520.7 168.9,520.3 169.3,520 169.7,519.7 170.1,519.3 170.6,519 171,518.6 171.4,518.3 171.8,517.9 172.2,517.6 172.7,517.2 173.1,516.9 173.5,516.6 173.9,516.2 174.4,515.9 174.8,515.5 175.2,515.2 175.6,514.8 176,514.5 176.5,514.1 176.9,513.8 177.3,513.4 177.7,513.1 178.2,512.8 178.6,512.4 179,512.1 179.4,511.7 179.8,511.4 180.3,511 180.7,510.7 181.1,510.3 181.5,510 181.9,509.7 182.4,509.3 182.8,509 183.2,508.6 183.6,508.3 184.1,507.9 184.5,507.6 189.8,503.2 193.4,500.3 198.1,496.5 208.3,488.1 223.8,475.4 245.5,457.7 297,415.6"/>
<rect x="61.8" y="404.2" width="249.1" height="203.55" class="l"/>
<path d="M83.15 607.75v7.8M131.75 607.75v7.8M180.35 607.75v7.8M228.95 607.75v7.8M277.55 607.75v7.8" class="l"/>
<text transform="translate(83.15 635.3) scale(1.057 1)" font-size="16.5" text-anchor="middle">−0.2</text>
<text transform="translate(131.75 635.3) scale(1.057 1)" font-size="16.5" text-anchor="middle">0.0</text>
<text transform="translate(180.35 635.3) scale(1.057 1)" font-size="16.5" text-anchor="middle">0.2</text>
<text transform="translate(228.95 635.3) scale(1.057 1)" font-size="16.5" text-anchor="middle">0.4</text>
<text transform="translate(277.55 635.3) scale(1.057 1)" font-size="16.5" text-anchor="middle">0.6</text>
<path d="M61.8 590.44h-7.8M61.8 550.7h-7.8M61.8 510.96h-7.8M61.8 471.22h-7.8M61.8 431.48h-7.8" class="l"/>
<text transform="translate(44.4 590.44) scale(1.03 1) rotate(-90)" font-size="17.5" text-anchor="middle">−0.2</text>
<text transform="translate(44.4 510.96) scale(1.03 1) rotate(-90)" font-size="17.5" text-anchor="middle">0.2</text>
<text transform="translate(44.4 471.22) scale(1.03 1) rotate(-90)" font-size="17.5" text-anchor="middle">0.4</text>
<text transform="translate(44.4 431.48) scale(1.03 1) rotate(-90)" font-size="17.5" text-anchor="middle">0.6</text>
<text transform="translate(185.4 378.55) scale(0.965 1)" font-size="16.2" text-anchor="middle" font-weight="bold" stroke="#000" stroke-width="0.3">Log Parameter, R1</text>
<text transform="translate(186.3 665.2) scale(0.99 1)" font-size="17.8" text-anchor="middle">EMIM</text>
<text transform="translate(14 505.9) scale(0.99 1) rotate(-90)" font-size="17.8" text-anchor="middle">LEM</text>
<text transform="translate(82.5 428.3) scale(0.93 1)" font-size="21" text-anchor="middle">C</text>
<line x1="61.8" y1="950.25" x2="310.9" y2="746.7" class="l"/>
<polyline class="q" points="76.7,938.3 90,927.4 95.9,922.6 99.4,919.8 101.4,918.1 101.8,917.8 102.2,917.4 102.7,917.1 103.1,916.7 103.5,916.4 103.9,916 104.4,915.7 104.8,915.3 105.2,915 105.6,914.6 106,914.3 106.5,913.9 106.9,913.6 107.3,913.2 107.7,912.9 108.2,912.5 108.6,912.2 109,911.8 109.4,911.5 109.9,911.2 110.3,910.8 110.7,910.5 111.1,910.1 111.6,909.8 112,909.4 112.4,909.1 112.8,908.7 113.3,908.4 113.7,908 114.1,907.7 114.5,907.3 114.9,907 115.4,906.6 115.8,906.3 116.2,905.9 116.6,905.6 117.1,905.2 117.5,904.9 117.9,904.6 118.3,904.2 118.8,903.9 119.2,903.5 119.6,903.2 120,902.8 120.5,902.5 120.9,902.1 121.3,901.8 121.7,901.4 122.1,901.1 122.6,900.7 123,900.4 123.4,900 123.8,899.7 124.3,899.3 124.7,899 125.1,898.6 125.5,898.3 126,898 126.4,897.6 126.8,897.3 127.2,896.9 127.7,896.6 128.1,896.2 128.5,895.9 128.9,895.5 129.4,895.2 129.8,894.8 130.2,894.5 130.6,894.1 131,893.8 131.5,893.4 131.9,893.1 132.3,892.7 132.7,892.4 133.2,892 133.6,891.7 134,891.4 134.4,891 134.9,890.7 135.3,890.3 135.7,890 136.1,889.6 136.6,889.3 137,888.9 137.4,888.6 137.8,888.2 138.3,887.9 138.7,887.5 139.1,887.2 139.5,886.8 139.9,886.5 140.4,886.1 140.8,885.8 141.2,885.4 141.6,885.1 142.1,884.8 142.5,884.4 142.9,884.1 143.3,883.7 143.8,883.4 144.2,883 144.6,882.7 145,882.3 145.5,882 145.9,881.6 146.3,881.3 146.7,880.9 147.2,880.6 147.6,880.2 148,879.9 148.4,879.5 148.8,879.2 149.3,878.8 149.7,878.5 150.1,878.2 150.5,877.8 151,877.5 151.4,877.1 151.8,876.8 152.2,876.4 152.7,876.1 153.1,875.7 153.5,875.4 153.9,875 154.4,874.7 154.8,874.3 155.2,874 155.6,873.6 156.1,873.3 156.5,872.9 156.9,872.6 157.3,872.2 157.7,871.9 158.2,871.6 158.6,871.2 159,870.9 159.4,870.5 159.9,870.2 160.3,869.8 160.7,869.5 161.1,869.1 161.6,868.8 162,868.4 162.4,868.1 162.8,867.7 163.3,867.4 163.7,867 164.1,866.7 164.5,866.3 165,866 165.4,865.6 165.8,865.3 166.2,865 166.6,864.6 167.1,864.3 167.5,863.9 167.9,863.6 168.3,863.2 168.8,862.9 169.2,862.5 169.6,862.2 170,861.8 170.5,861.5 170.9,861.1 171.3,860.8 171.7,860.4 172.2,860.1 172.6,859.7 173,859.4 173.4,859 173.9,858.7 174.3,858.4 174.7,858 175.1,857.7 175.5,857.3 176,857 176.4,856.6 176.8,856.3 177.2,855.9 177.7,855.6 178.1,855.2 178.5,854.9 178.9,854.5 179.4,854.2 179.8,853.8 180.2,853.5 180.6,853.1 181.1,852.8 181.5,852.4 181.9,852.1 182.3,851.8 182.8,851.4 183.2,851.1 183.6,850.7 184,850.4 184.4,850 184.9,849.7 185.3,849.3 185.7,849 186.1,848.6 186.6,848.3 187,847.9 187.4,847.6 187.8,847.2 188.3,846.9 188.7,846.5 189.1,846.2 189.5,845.8 190,845.5 192.8,843.1 195.2,841.2 300.3,755"/>
<rect x="61.8" y="746.7" width="249.1" height="203.55" class="l"/>
<path d="M74.3 950.25v7.8M110.9 950.25v7.8M147.5 950.25v7.8M184.1 950.25v7.8M220.7 950.25v7.8M257.3 950.25v7.8M293.9 950.25v7.8" class="l"/>
<text transform="translate(74.3 977.8) scale(1.057 1)" font-size="16.5" text-anchor="middle">−0.4</text>
<text transform="translate(147.5 977.8) scale(1.057 1)" font-size="16.5" text-anchor="middle">0.0</text>
<text transform="translate(220.7 977.8) scale(1.057 1)" font-size="16.5" text-anchor="middle">0.4</text>
<text transform="translate(293.9 977.8) scale(1.057 1)" font-size="16.5" text-anchor="middle">0.8</text>
<path d="M61.8 940.3h-7.8M61.8 910.3h-7.8M61.8 880.3h-7.8M61.8 850.3h-7.8M61.8 820.3h-7.8M61.8 790.3h-7.8M61.8 760.3h-7.8" class="l"/>
<text transform="translate(44.4 940.3) scale(1.03 1) rotate(-90)" font-size="17.5" text-anchor="middle">−0.4</text>
<text transform="translate(44.4 880.3) scale(1.03 1) rotate(-90)" font-size="17.5" text-anchor="middle">0.0</text>
<text transform="translate(44.4 820.3) scale(1.03 1) rotate(-90)" font-size="17.5" text-anchor="middle">0.4</text>
<text transform="translate(44.4 760.3) scale(1.03 1) rotate(-90)" font-size="17.5" text-anchor="middle">0.8</text>
<text transform="translate(185.4 721.05) scale(0.965 1)" font-size="16.2" text-anchor="middle" font-weight="bold" stroke="#000" stroke-width="0.3">Log Parameter, S1</text>
<text transform="translate(186.3 1007.7) scale(0.99 1)" font-size="17.8" text-anchor="middle">EMIM</text>
<text transform="translate(14 848.4) scale(0.99 1) rotate(-90)" font-size="17.8" text-anchor="middle">LEM</text>
<text transform="translate(82.5 770.8) scale(0.88 1)" font-size="21" text-anchor="middle">E</text>
<line x1="404.3" y1="607.75" x2="653.4" y2="404.2" class="l"/>
<polyline class="q" points="570.2,473 533.8,503.8 542.2,495.7 548.5,495.6 528.3,507.6 541.7,495.9 541.6,498.1 512,520.3 558.8,483.8 551.8,491.4 531.1,508 538.7,498.5 550.2,489.1 537.2,500.3 537.5,500.3 517.1,518.9 551,491.2 543.7,494.5 546.3,493 515.9,519.2 569.5,476.1 544.2,495.9 535.1,502 575.9,469.8 540.9,497.6 517.1,516.1 503,529.8 559.3,486.5 534.6,502.6 559.7,481.4 513.8,524.4 506.8,525 530.5,510.9 521.3,513.1 566.3,477 571.4,472.3 536.1,500.7 555.8,484.9 538.6,501.1 551.2,489.1 512.8,522.5 511.2,521.3 548.1,491.2 579.6,466.3 546.2,493.3 532.8,509.4 573.9,476.3 545.6,494.8 543.3,495.2 539.4,499.3 536.4,506.2 550.1,491.4 540,499.4 561.8,479.7 535.4,501.1 509.4,522.3 539.9,502.9 570.3,474.2 526.6,510.7 521.5,516.2 523.9,510.6 536.6,501.8 521.7,514.5 543.5,498.2 565.9,476.2 567,479.6 547.2,493.4 554,486.8 538.4,499.5 552.7,487.4 556.7,484.5 548.6,491 526,509.2 538.3,504 531.7,504.4 563.5,478.9 567.4,476.1 552.9,488 530.3,509.3 579.8,465.4 535.9,504.9 533.7,504.1 527,508 549.8,489.7 532,505.2 565.7,479.3 544.3,496 570.6,474.8 533.9,505.1 536.8,500.7 546.7,492 559.5,483.4 551.2,488.4 520.8,520.4 544.7,497.2 542,496.7 530.7,507.8 571.1,474.1 535,505.4 527.3,515.1 552.4,489 540.3,498.1 554.8,485.3 549.9,492.8 547.7,492.9 557.9,482.7 531.2,505.4 535.5,505.6 532.8,510.1 545.2,500.8 523.4,511.9 510.7,522.8 543.1,497.6 519.1,515.5 508.7,526.3 529.6,507.7 550,494 532.7,512.4 522.7,515.6 520.6,513.6 532.9,503.5 527.7,508.8 536.9,504 515.7,517.3 511.3,523.6 538.4,499.1 553.4,486.8 560.1,485.3 515.4,519.4 554.4,489.1 562,480.6 558.2,485.3 525.9,512.1 548.6,492.8 573,476.7 549.7,491.6 560.4,481.5 529.9,507.4 551.5,492.5 523.6,515.4 527.9,508.1 527.8,509.7 544.9,493.8 557.7,484.3 525.8,516.9 539.4,498 557.9,486.1 533.6,507.3 548.1,493.8 562.2,484.7 518.5,517.4 554,487.8 537.3,504.4 560.8,481 529,506.3 507,527.1 576.5,470 509.4,522.6 552.4,487.4 513.2,519.5 558.8,482.3 546.7,492.5 534.1,507 522.4,514.1 536.3,501.5 551.6,487.8 536.6,505.1 549.7,490.9 532,513.7 542.3,498.5 544.6,494.6 571,472.7 537.8,505.5 524.1,514.8 542,501.6 540.8,499.5 532.9,506.4 558.1,484.6 561,484.5 532.8,504.1 539.4,500.2 509.6,525 563.2,478.8 542,502.3 554.1,489.6 563.4,478.4 531.7,508.6 518,517.6 537.7,499.5 533.7,504.9 524.8,512.3 562.6,482.5 555.4,485.5 511.8,524.7 566.3,480.8 546.8,496.7 565.1,476.8 550.1,489.9 551.8,492.2 502.7,527.9 556.9,483.8 505.8,529.1 511.8,528.3 554.5,490.4 540.1,500.6 523,518.9 519,521.8 556.6,488.4 563.3,484.7 525.6,509.8 572.7,472.9 541.8,497.4 538.7,501.7 514.8,518 557.4,484 565.1,479.6 520.5,516.8 516.3,517.7 564.4,478.7 546.9,496.8 589.9,470.2 546.8,493.6 552.4,488.1 545.4,496.8 526.3,516.2 522.1,513.5 551.7,495.6 513.9,522.8 561.4,483.7 554.7,488.4 537.6,500.8 537.2,508.6 530,505.9 517.3,517.2 517.3,520 571.7,472.1 523.7,511 517.7,517.4 530.7,507 569.6,478.8 529.2,520.8 586.2,460 575.1,471 502.9,530.2 540.2,502.1 542.9,496.6 528.4,511 552.2,492.8 530.6,505.4 528.3,507.9 504.3,526.4 514.7,518.4 571.7,475.4 521.5,517.5 541.3,499.3 525.6,513.1 489.6,539.1 548.4,491.9 539.5,501.2 526.7,509.4 514.5,520.8 558.1,482.9 567.7,477.7 559.9,481.4 554.9,490.6 517.5,522.3 549,494.4 514.3,519.4 564.2,480.1 563.8,478.1 515.8,517.4 556,486.5 535.4,514.6 495,539.8 530.4,506.5 518.3,516.5 530.1,512.4 529.5,510.5 550.5,492.4 547.5,497.6 534.9,504 534.4,502 554.9,486.1 578.5,467.1 527.6,507.4 550.7,491.5 535.4,506.6 559.5,482.2 494.4,535.5 573.7,469.8 494,539.5 536.4,500.2 525.7,509.7 527.5,512.2 543.2,494.9 561.6,485.1 559.7,488.3 556.9,487 558.4,488.7 544.2,499.8 554.5,487.3 533.3,505 560.8,480.3 519.9,515.7 510,524.6 519.7,514.3 511.6,522.1 520,517.7 568.6,475.8 523.6,514.4 536,503.1 520,513.8 569.9,477.9 566.1,478.2 525.7,511.1 520.4,515.2 544.6,495.4 564.6,477.3 542.3,497.5 524.3,512.3 510.1,523.4 547.3,492.3 544.4,499.4 555.1,493.4 508.8,523.4 522.7,512 559.7,485.2 584,462.1 552.7,488.7 554.2,487.7 533.2,507.8 573.6,472.1 556.8,485.7 569.5,473.6 551.5,489.8 541.2,501.8 559.9,486.5 535.4,502.3 573.8,471.5 542,500.4 511.6,528.9 521.8,512.2 560.6,482.8 545.5,495.6 540.4,504.7 528.9,509.7 519.3,519.5 565.9,478 523.9,515.9 556.6,486.9 524.3,513.2 541.4,502.7 563.7,481.5 568.8,475.7 574.7,469.1 503.7,527.5 522.5,512.2 523.8,511.8 569,474.5 523,512.6 491,547.7 560.6,480.6 530.8,510.2 513,521.8 562.3,480.9 552.3,490.3 567,475.6 509.3,524 520.6,515.8 564,483 507.6,525.9 529,516.3 559.4,485.1 544.2,500.5 526.9,513.6 503.3,530 577,471.3 577.5,469 523.5,516.1 566.6,479.8 532.5,506.1 568.1,481.4 531.7,506.7 526.8,509.6 568.8,480 516.7,518.4 545.5,499.6 546.8,501.8 536.1,502.9 555,492.1 555.4,488.1 505.6,526.5 525.3,514.5 529.3,513.3 569,483.5 552.8,491.5 567.9,475.5 573.6,474.2 574.5,475.1 533.3,503 509.1,528 557.3,487.5 577,471.8 535.4,511.9 530.8,504.9 529.4,509.3 526,511.9 565.1,480.4 549.3,494.7 553.8,489.1 568.4,474.8 512.2,522.9 535.2,504.4 532.7,503.4 562.8,481.6 520.3,514 585.4,467.5 532.5,507.2 567.3,482.3 529.3,509.9 525.1,511.8 559.3,487.5 562.9,480 543,505.1 552.5,493.4 528.6,512.3 540.6,496.8 521.1,521.3 525.6,514 559.7,482.8 581.3,464.1 514.4,521.9 542.3,499.1 567.7,475 527.8,510.4 564.3,477.5 516.9,520.4 543.9,496.8 581.5,464 548.8,490.4 516.4,526.1 520.4,520.1 524.9,510.9 558.9,487.3 523.1,513 534.8,509 500.5,532 501.9,529.8 514.5,527.3 510.7,525.1 543.9,504.1 502.1,529 486.7,542.7 539.3,503.6 559.1,488.8 526.3,508.4 579.3,468.8 549.8,499.3 562.9,486 557.8,485.5 537.9,502.1 565.2,482.1 507.7,523.7 512.3,520.3 562.7,481 489.7,543 572.4,474 515.6,520.5 575.9,469.8 578.6,466 503.9,533.2 514.3,518.5 524.4,515.6 574.1,469.9 516.4,522 518.8,517.5 573,473.5 547.7,494.3 535.4,506.8 573.1,471.4 551,491.7 513.1,522.4 520,521.9 560.4,483.4 549.8,489.4 518.8,516 519.3,520.7 510.3,523.1 576.6,471.7 544.4,494.1 566.9,481.8 518.1,518.7 565.3,477.7 515,522.1 525.5,513.3 558.6,486.5 521.2,523.1 536.4,502.2 531.4,507.4 506.8,529.1 578.6,466.5 515.4,519.2 521.7,515 532.6,508.5 546.5,498.1 510.3,528.8 573.1,470.3 585.2,460.4 575.6,468.3 592.4,455.9 585.2,463.4 496.3,536.5 519.7,516.6 543.5,499.5 569.1,477.6 534.5,510.3 575.9,471.5 568.4,476.8 565.7,486.1 580.6,470.7 527,511.6 537.9,502.3 512.4,519.9 546.6,495.1 541.6,501.3 576.7,467.8 516.5,520.7 551.4,493.3 502,531.3 550.5,488.7 506.5,527.8 561.6,485.4 492.6,538.2 545.9,496.5 577.7,467.3 555.7,487.7 506.7,524.6 569.8,474.7 546.4,494.3 557.2,491.8 604.8,445.3 591.1,462.2 583.1,462.2 525.6,509.3 513.9,518.6 543.5,499.6 557.1,490.1 566.8,477.5 545.4,503.5 507.4,524.5 504.9,527.6 538,508.7 504.9,530.3 531.7,510.1 495.1,535.1 533,508.9 577.8,468.6 562.2,492.3 495.2,534.1 553.3,490 542,500.1 507.7,527.2 519.2,514.5 563.6,484.8 528.5,513 536.2,519.7 532,519 538.6,503.1 555.3,492 543,503.3 529.7,505.7 517.9,520.7 566.4,483.8 505.5,525.9 513.4,520.8 528.9,508.9 600.7,449.2 561.4,482.4 516.9,524.5 537.8,503.6 555.4,494.6 536.1,506.6 530.4,511.8 581.5,465.8 580,468.7 545.1,502 584.3,462.4 491.1,538.4 521,517.8 583.3,467.7 518.2,515.4 558.3,490.2 519.4,520.1 543.6,501.8 575.1,470.6 512.2,525.6 573.4,472.6 528.9,511.8 567.8,478.3 513.6,521.5 578.5,469.6 488.9,545.6 571.6,477.4 581,465.9 521,512.9 562.2,483.9 539.6,497.7 583.4,462.9 505.3,527.5 536.7,509.5 550.3,494.2 550.5,496 536.2,506.7 591,458.9 501.1,534.7 507.6,528.2 518.4,525 549.1,496.2 507,529.3 500.3,530.2 498.5,534.1 517.5,529.4 545.1,493.1 548.6,496.3 515.1,523.2 525,516.7 514.4,528.9 522,524.2 569,478.4 568,482.7 536.5,507 510.9,529.3 559.6,489.7 514.4,526.1 566.5,479.2 521.7,516.7 541.6,504.7 560.2,500.7 562,482.5 545.7,509.5 540.4,505.1 580.3,464.9 541.7,500.1 505.8,537.5 524.3,517.4 571.2,477.2 557.2,491.2 509.3,525 582.6,463 510.6,527.5 570.5,476.2 551.5,494.4 549.2,497.3 589,463.3 529.4,514.5 569.8,475.5 529.5,511.6 559.9,484.5 496.4,534.1 582.7,464 544.3,498.6 520,522.5 556.7,489.1 560.9,482.3 538.2,506.8 554.3,485.8 526.8,514.3 576,470.7 529.6,512.2 487.5,543.7 584.9,460.6 505.9,526.3 522.8,515.9 531.9,509 599.3,451.7 524,522.9 510.1,532.2 518.9,523 504,533.9 574,481.7 555.7,489.9 503.8,527.1 549.8,493.2 534.3,514.3 561.4,490.1 562.4,482.4 496.7,532.7 547.3,495 549,499.9 509.9,521.8 552.6,491.2 585.5,464.4 511.2,521.2 565.1,481.3 555.9,491.3 522.4,518.4 552.7,492.8 577.7,466.9 498.4,532.9 492.5,543.2 513.6,526.6 545.7,497.7 586.1,464.4 504.7,528.4 539.4,501.6 567.9,477.5 575.7,472.6 529,517.5 545.5,497.5 566.5,484.5 531.9,511.2 563.8,480.9 572,478 509.7,526.8 490.1,539.6 527.5,514.8 547.9,497.9 530.2,514.7 496.1,533.7 499.9,535.7 561.6,486.7 553.5,497.4 518.5,518.4 524.3,510.3 553.5,494.6 570.7,475.3 572.4,476.2 497.7,534.5 505.2,528.8 531.6,510.5 537.6,505.9 526.9,512.3 512.2,524 534.5,506.6 576,475.4 506.9,530.5 545.1,498.3 553.8,490.8 484,549.5 515.9,526.6 566.1,485.3 587.1,459.1 568.2,478 557.4,489.4 508,531.1 507.4,525.8 574.7,474.2 557.4,497.2 565.7,482 564.8,482.5 575.1,471.8 567.9,481 546.4,500.9 503.4,531 503.6,531.7 576.7,468.4 555.1,498.1 538.4,502.9 508.5,524 517.1,530.1 580.6,466.6 504.4,526.7 525.2,515.6 502.8,533.8 534.5,509.4 535.6,510.1 482,545.2 552.9,496.3 582,471.5 587.6,462.2 533.3,514.5 572,472.5 542.5,503.1 554.3,493.9 577.1,468.5 543.3,501.1 542,504.6 572.5,474.7 551.4,496.9 535.4,509.4 586.5,462.6 532.8,511.5 601.7,447.3 568.4,474.2 572.6,475.6 562.7,483.8 518.6,524.6 503.6,528.6 527.9,511.6 499.4,532.3 567.5,479.8 493.9,542 500.1,531.3 519.9,516.7 511.1,524.6 523.5,520.4 565.6,480.3 507.6,528.3 505.9,525.5 505.7,529.4 534.2,512.9 547.5,496.5 587.4,461.2 515,529.6 534,509.3 500.2,531.9 588.2,463 534,508.3 521.9,520.8 580.9,468.7 506.8,527.6 556.2,492.5 514.6,524.5 498.7,536.3 570.3,479 574.5,472.7 552.1,494.7 572.4,472.2 536,507.6 592.1,458.8 496.1,535.7 502.8,531.8 537.6,504.7 565.6,484.1 560.8,488.8 516.4,519.9 516.4,516.5 575,468.7 578.9,467.5 496.5,538.4 497.2,538.8 523.8,521.8 566.5,482.6 591.5,464.5 549,495.8 501,531.6 554.1,491.9 584.7,463.7 574.7,472.2 522,519.6 515,521.9 523.2,517.6 588.3,460.3 510.1,525.6 578.9,466.2 520.1,523.6 582.4,467 510.7,526 512.7,530.2 487,544.7 582.3,463.5 556.8,490.7 514.2,523.4 532.9,511.7 513.7,525.5 588.9,461.8 565.5,481.1 516.5,522.5 554.5,493 488.1,540.1 518,521.4 571.1,476.3 522.8,517.1 560.3,488.2 501.1,534 527,520.1 544.9,499.4 510.6,533.4 543.2,502.8 496.8,537.6 567.6,483.4 569.6,482.4 553.2,497.6 553.5,492.4 579.4,465.3 545.1,500.2 517.7,523 498.4,532.3 499,535.4 506.1,527 509,533.5 587.8,458.3 564.3,485.7 593.8,458.5 513.1,523.5 530.5,516.4 562.6,488.3 511.8,525.1 516.7,521.2 487,542.3 490.4,541.4 584.1,462.9 560.3,492.7 580.3,470.5 508.8,533.7 527.2,517.2 505,531.3 561.9,490.5 496.7,534.7 538,508.2 524.9,515.8 555.5,489.3 548.7,500.3 568.3,479.6 514.7,529.4 583.8,465.1 560.3,487.3 540.5,503 504.2,532.7 523.3,517.3 560.3,489.2 503.4,533.9 572.2,480.3 578.8,469.4 546.2,492.3 528.8,514.1 494.2,539.4 530.8,513.3 522.1,519.5 517.7,519.5 509.5,531.7 586.6,459.6 502.9,528.7 535.8,510.7 494.4,536.9 568.7,481.8 504.3,529.8 555.7,495.8 497.1,536.6 578.4,472.9 497.2,532.6 573.7,474.7 576.1,469.1 584.8,461.5 572.2,471.4 551.9,495.5 521.8,522.1 495.5,537.8 539.3,504.1 549,497.8 562.3,487.6 569.1,481.7 598.9,449.6 578.1,471.3 531.3,511.2 558.6,491.6 525.9,520.5 582.3,469.2 592.5,457.4 515.8,524.1 546.7,499.9 490.9,540 561.3,488.1 500.6,533.1 501.8,537.4 495.7,533.5 517.3,529.1 521.4,519.3 525.9,514.8 571.9,474.4 496.9,545 498.8,546.9 490.2,543.8 541,503.8 551.3,496.3 592.6,458.7 582.3,467.8 546.4,498.6 566.9,491.6 493.3,537.7 584,461.5 555.1,485.1 492.1,536.7 557.6,490.2 500.9,530.8 591.4,456 495.2,537.2 425.8,594.8 464.6,565 473.6,558.9 619.7,433.3 611.8,442.2 599,448.5 624.8,452.7 621.1,453.3 616.2,450 612.9,452.7 608.7,448.5 607.8,453.6 603.1,452.7 607.8,458.3 612.3,463.8 617.6,466.6 617,462.5 600.3,468 558.2,500.4 526.9,524 530.5,520.1 501.9,542.3 481.1,544.8 477,550.8 479.6,554.2 475.7,555.5 484,546.7 588.1,462.5 583.2,468.5 585.3,462 593.2,457.8 599.1,460.3 596.1,457.1 586.6,462.8 594.7,454.1 593.6,457.2 600.8,451.9 588.8,468.8 587.7,473.1 587.3,463.7 599.7,450.8 594.9,457.9 590.2,473 589,461.6 595.1,459 594.1,458.1 596.6,465.2 586.2,468.2 591.5,477.8 587.7,459.9 590.1,463.7 596.8,457.4 589.1,460.8 590.7,459.9 590.4,462.6 584.1,466.1 599.9,452.8 595.1,455.1 485.5,543.8 491.5,538.8 484.2,549 490.6,545 479.2,550.3 487.3,550.8 490.8,543.6 480.3,555 483.8,545.6 492.5,544.4 480.3,553.6 476.6,550.8"/>
<rect x="404.3" y="404.2" width="249.1" height="203.55" class="l"/>
<path d="M413.2 607.75v7.8M446.3 607.75v7.8M479.4 607.75v7.8M512.5 607.75v7.8M545.6 607.75v7.8M578.7 607.75v7.8M611.8 607.75v7.8M644.9 607.75v7.8" class="l"/>
<text transform="translate(413.2 635.3) scale(1.057 1)" font-size="16.5" text-anchor="middle">−2.0</text>
<text transform="translate(479.4 635.3) scale(1.057 1)" font-size="16.5" text-anchor="middle">−1.0</text>
<text transform="translate(545.6 635.3) scale(1.057 1)" font-size="16.5" text-anchor="middle">0.0</text>
<text transform="translate(611.8 635.3) scale(1.057 1)" font-size="16.5" text-anchor="middle">1.0</text>
<path d="M404.3 600.7h-7.8M404.3 573.7h-7.8M404.3 546.7h-7.8M404.3 519.7h-7.8M404.3 492.7h-7.8M404.3 465.7h-7.8M404.3 438.7h-7.8M404.3 411.7h-7.8" class="l"/>
<text transform="translate(386.9 600.7) scale(1.03 1) rotate(-90)" font-size="17.5" text-anchor="middle">−2.0</text>
<text transform="translate(386.9 546.7) scale(1.03 1) rotate(-90)" font-size="17.5" text-anchor="middle">−1.0</text>
<text transform="translate(386.9 492.7) scale(1.03 1) rotate(-90)" font-size="17.5" text-anchor="middle">0.0</text>
<text transform="translate(386.9 438.7) scale(1.03 1) rotate(-90)" font-size="17.5" text-anchor="middle">1.0</text>
<text transform="translate(527.9 378.55) scale(0.965 1)" font-size="16.2" text-anchor="middle" font-weight="bold" stroke="#000" stroke-width="0.3">Log Parameter, R2</text>
<text transform="translate(528.8 665.2) scale(0.99 1)" font-size="17.8" text-anchor="middle">EMIM</text>
<text transform="translate(356.5 505.9) scale(0.99 1) rotate(-90)" font-size="17.8" text-anchor="middle">LEM</text>
<text transform="translate(425 428.3) scale(0.9 1)" font-size="21" text-anchor="middle">D</text>
<line x1="404.3" y1="950.25" x2="653.4" y2="746.7" class="l"/>
<polyline class="q" points="536.2,843.3 531.4,847.4 517.6,858.3 536,844.2 529.9,850.8 528.2,850.6 510.9,864.8 528,852 532.2,846.7 525.4,852.5 546.8,836.1 565.2,821.6 541.1,839.5 548,834.1 566.6,820.3 543.4,842.6 561.9,826.9 521.2,855.6 533.9,845.7 557.8,825.7 547.5,837.2 536.7,843.2 551.5,830.8 542.5,839.4 544.8,836.1 530.3,848.5 539.7,841.3 541.7,840.4 527.9,850.4 501.4,872 534.8,844.4 577.1,809.8 491.7,881.7 521,856.2 540.7,840.4 555,828 553.6,829.6 557.9,828.3 559.3,824.7 535.3,843.9 529.9,853 520.8,855.8 568.1,824.5 533.7,850.9 525.6,851.9 549.9,834.8 516,859.6 524.5,854.9 503.3,870 492,882.5 549,834.1 507.9,866.6 489.7,882 542.8,839 563.9,823.6 529.9,848.9 533.4,845.9 576.5,812.2 506.1,867.9 541.9,841.1 535.8,843.8 520.2,857.4 529.8,848.4 538,843 522,854.9 547.3,836.8 548.7,833.3 528.4,850.4 531.6,849.2 550.3,833.7 538.9,840.9 556.3,827.4 509.8,866.7 553.2,829.3 525.3,854.1 545.1,835.8 538.6,841.6 508.7,866.2 559,828.5 529.6,849.8 557.6,827.2 545.6,835.9 544.2,838.8 518.4,870.1 515,863.5 551.5,831.8 553.8,830.8 545.2,838.8 552.4,830 555.4,828.1 552.8,830.5 550.9,832.5 527.4,851.2 549.8,833.1 519.2,858.7 498.6,874.8 547.5,836 568.5,821.3 515.5,862.8 532.2,847.2 540.7,843.8 517.9,859.8 576.2,813.1 570,815.9 522.8,854.2 558.2,825.3 526.6,852.3 537.6,842.2 519.3,857.4 531.3,848.3 562.2,822.3 552.2,832.3 526.2,852.1 523,854.6 546.9,834.8 518,860.9 533.3,849.3 556.8,826.9 553.2,830.9 550.5,833.3 543.5,837.9 548,838.2 528.9,852.1 522.2,857.3 511.5,865.1 516.3,861.7 519.1,861.7 510,867.4 567.7,818.4 522.9,855.7 505.8,868.1 525.4,854.8 542.5,838 534,846.4 542.6,840 541.9,843.2 533.1,846.3 514.1,861.8 551.8,831.1 528.7,851 506.1,870.5 554,830.6 534.2,845 516.5,859.4 519,858.4 521,858.2 523.9,853.3 567.8,819.5 533.9,848 562.9,821.5 562.3,823.7 530.2,849.5 523,854 526.8,851.9 544.2,839.5 498.1,874.9 547.7,834.8 556.7,829.7 563.7,821.2 511.4,866 518.3,859.1 562.6,822.1 519.5,857.6 551.8,834.6 550.2,832.4 508.3,870.3 561.5,824.5 548.3,834.2 545.5,836.6 560.7,826.7 553.8,828.8 498.9,873.9 533.2,847.1 573.1,814.5 573.7,815.2 519.4,858.8 514.5,860.8 525.9,852.4 565.4,819.4 549.5,832.4 526.9,853.3 548.8,834.7 535.6,845.2 569.8,817.7 539.6,841.8 516.7,859.1 544.2,836.6 543.8,843.7 546.2,835 573.9,812.4 542.9,838.6 525.8,854.7 504.7,868.9 513.8,863.3 507.8,867.3 541.1,841.6 564.6,822.7 513.6,864.6 589.7,800.4 528.3,849.6 513,862.7 536.6,845.3 527.5,853.1 525.1,857.1 566.2,819.3 510.6,866.5 534.9,845.2 511.2,863.9 540.7,842 555.9,827.2 545.2,837.1 531.1,849.6 545.9,837.8 536.6,844.2 515.1,861 555.6,829.3 558.6,828.1 510.1,868.2 535.1,848.6 551.6,837.4 502.6,871.6 514,862.6 540.1,840.9 504.9,868.8 522.5,856.2 527.3,850.4 544,837.3 550,836 509.2,865.3 561.3,824.2 512.3,863.4 503.2,870.3 514.3,863.7 515.9,863.9 529.2,853.1 559.7,826 568.5,818.5 573.4,813.7 559.1,826.3 543.6,839.8 572.5,813.7 568.5,822.1 517.8,862.5 571.4,817.7 560,824.4 565.5,819.9 530.7,847.8 546.7,836.5 532.2,848.4 494.3,877.9 524.4,855.6 488.8,884.8 558.6,824.9 578,811 543.4,839.7 578.6,808.8 492.9,883.9 522.5,858.1 561.6,822.7 562.3,823.2 492.9,880.8 522.3,859.3 524.5,857.2 501.5,872.8 497.5,875.5 539.5,840.6 530.2,851.2 515.9,861.1 520.1,858.4 556.4,828.5 569.2,819.1 575.3,811.6 492.7,879.4 561.3,826.2 524.3,852.8 521.8,858.9 502.5,871.1 544.9,838.9 566,821.5 509,868.4 500,873.8 576.8,811.2 538.4,844.5 511.4,866.7 570.1,816.3 568.5,817.3 563.9,822 539,842.5 507.4,869.5 515.5,860.2 563.9,820.5 550.8,833.5 509.8,865.2 487.7,886.4 540.9,840.8 537.7,843.5 529.6,851.4 560.5,823.7 562.6,822.7 555,830.9 507.4,866.9 545.4,838.8 522.9,857 563.1,825.3 567.3,817.8 564,822.6 506.9,867.7 562.2,825.4 560.4,830.1 521.2,856.3 536.8,843.3 514.9,861.4 555.2,828 512.9,862.8 521.6,857.2 572.1,814.3 511.9,864.2 564.6,820 518.2,861.4 568.2,823.3 531.7,846.9 528.3,853.8 557.4,826.7 511.4,869.6 568.4,817 488.2,883.1 513.4,862 570.8,815.6 496.3,876.5 538.6,843.4 506.3,869.1 555.3,829.1 582.7,806 505.6,869.7 540,842.4 492.1,879.3 520.7,859.9 500,874.2 558.9,831.1 519.6,856.7 519,859.7 495.3,880.9 512.3,864.3 552.5,832.9 536.2,847.2 504.7,870.8 546.9,837.9 541.6,838.8 532,849.9 539.5,847.4 523.1,855.7 503.4,871.7 530.7,850.5 526.4,851.3 537.1,842.4 540.8,839.6 506.7,871.8 549.5,837.4 533.8,847.7 568.5,823.8 549.3,836.3 553,831.8 537.1,846.4 506.7,868.6 559.7,824 545.2,840 497.5,878.6 560.2,825.4 504.1,871.3 504.8,869.5 587,802.4 513.3,866 562.8,828.4 569.1,817.1 563.1,823.8 525.7,855.8 548.9,835.2 495.5,877 529.6,854.2 572.6,817.5 571.3,815 520.3,859 497.3,876.1 553.7,832.5 549,834.4 512.3,869.3 552.7,832.8 580.1,808 509.2,867.1 499.3,875 523.6,856.2 508.8,868.7 476.3,893.9 516.8,859.7 526.3,853.7 593.3,798.5 555.5,829.8 547.9,839 499.9,876.7 490.5,881.6 485.5,888.6 571.6,816.4 548.4,836.8 517,863 510.3,864.7 535.1,849.5 490,881 567.9,820.8 576.8,810.3 572.3,815.1 510.3,869.5 517.3,863.7 558.5,826.6 533.3,848.4 574.3,812.4 550.9,836 507.9,868.2 550.7,831.4 502.3,876.3 503.6,873.3 534.9,846.4 517.3,860.7 521.3,858.3 540.6,843.2 490.3,881.2 498.6,876.8 560.6,823.2 488.7,882.1 533,850.1 542.3,841.7 509.2,869.8 526.9,855.2 581,808.6 500,876.3 565,821.8 496.7,875.7 572.2,815.9 589.4,800.2 558.1,827.5 517.8,863.6 493.6,880.9 577.3,810.5 491.2,880.2 500.7,875.7 501.1,872.7 494.3,881.7 510.8,870.5 558.9,829.8 524,855.9 506.5,867.4 537.9,848.6 578.7,813.6 521.7,860.4 545.9,839.8 559,829.1 520.3,860.6 565.4,822.1 559.1,827.6 556.7,830.1 501,872.1 534.3,848.7 551.6,834.3 532.6,849.2 578.2,809.3 517.1,861.8 578.5,810.5 536.5,848.5 500.3,872.4 527.9,854.5 508.5,869.3 556.1,827 527.9,855.3 498,876.2 561.1,828.8 526.6,854.6 525,855.4 584.4,805.4 546.1,838.4 503.1,870.3 494.9,876.9 543.4,840.6 575.5,812 555,830.7 535.5,854.4 557,830.8 573.6,813 512.2,866 537.4,846.6 515.7,865.3 504.1,872.5 520.2,860.5 557.3,829.7 516,862.6 505.5,870.6 511.2,868.8 568.9,818.6 497.5,876.6 549.7,838.7 554,832.4 493.9,878.1 492.7,878.7 503.2,874 510.5,866.8 571.8,817.5 548.6,837.6 485.1,885.1 525.4,856.5 519,860.6 498.5,882.9 546.4,840.2 502.1,873.3 558.1,829.2 545,842.8 511.1,864.9 499.2,873.4 542.5,845.9 566.9,821.4 585,805.5 525.7,857.1 485.4,887.4 519.5,864.5 540,843.3 506.2,869.6 512.7,868.3 512.4,865.3 562.3,824.5 499.9,879.3 538.3,848.4 490.8,881 564.4,827.4 574.4,814.9 579.6,811.5 518.7,864.1 511,863.8 574.7,812.9 521.6,860.2 562.2,827.8 505.1,872.2 496.4,880.7 495.9,877.6 492,880.7 575.3,813.8 566.5,822 552.6,829.8 512.2,867.1 499.5,876.4 540.5,844.6 582.3,808.3 530.5,852.8 479.6,889.5 512,863.1 490.1,887.5 555.7,831.4 533.1,854.1 543.8,842.6 536.2,846.2 501.5,873.9 519.4,859.5 516.2,864.3 568.5,819.8 574.9,811.7 577,811.4 585.7,803.5 583.4,807.5 569.1,817.9 488.9,883.2 592.6,799.1 515.1,864.1 566,818.8 551.7,830.6 554.4,835.8 575.6,813 553,834.6 578.8,810.6 500.2,877.6 532.7,850.6 527.7,853.9 552.5,833.7 494.1,879.7 536.6,847.5 481,891 589.7,799.8 583.1,808.4 564.9,824 564.4,826.1 553.6,834 490.9,882.2 578.6,813.9 477.2,895.6 514.6,866 486.1,884.1 514.9,865.7 578.2,812.9 565.9,822.7 523.1,858.3 525.7,855.9 542.7,837.9 504.1,873.5 534.6,846.9 572.9,813.5 582.1,806.2 500.6,874.3 501.7,874.9 523.9,857.9 486.9,887 561,828.9 503.9,872.6 554.5,832.1 489.7,885.6 535.7,850.3 500.9,875.2 539.3,844.9 572.5,815.8 485.8,884.6 522.1,861.9 513.2,865.6 551.4,839.2 582.1,807.3 546.4,837.9 541.4,843.4 500,875 563.2,825.2 501.1,873 482.1,887.5 538,844.3 531.1,850.6 574.4,814.2 569.8,818.1 555,832.6 542.7,843.8 527.5,856.4 495.9,876.1 560.1,827.5 566.3,818.9 544.2,840.7 581.2,806.4 545.5,842.7 539.1,846.8 566.8,823.2 593.4,798.2 489.8,883.3 569.5,816.1 475.7,892.5 528.3,849.6 572,819 508.3,872.1 576,810.7 514,868.6 509.9,874.6 584.4,805.7 483.7,887.2 570.3,815.4 493.8,878.6 491,884.3 549.3,835.5 494.4,878.5 576.9,813.8 529,854.8 583.6,804.6 486.9,885.9 502.5,872.8 562.6,826.2 564.2,824.5 563.4,828.2 567.2,821.1 532.8,846 587.9,804.5 479.7,892.5 588.1,801.9 570.4,820 546.6,839.4 570.4,819.1 530.5,851.6 547,834.3 517.4,858.4 564.8,824.5 585,807.4 477,894 530.2,854.1 565.2,819.9 589,800 580.6,811.2 537.7,845.5 507.6,866.6 488.3,882.7 552.6,833.8 502.1,871.1 519.9,861.4 581.1,812.8 571.1,817.2 507.4,872.7 513.5,867.4 530.3,854 541.1,842.7 539.7,845.1 561.4,827 557.7,830.7 514.1,864.1 501.1,878.8 580.1,808.9 426.3,936.8 440.2,923.4 446,919.7 450.2,924.4 449.9,915.8 451.5,912.1 456.5,909.5 462.5,910.8 469.1,912.1 462.5,903.4 469.9,897.4 472.3,901.6 487.5,898.9 500.6,884.5 474.4,895.5 480.9,894.2 485.7,892.1 640,772.1 614,778.9 615.8,787.3 608,786 610.6,788.6 606.6,791.8 603.5,801.7 596.9,807.8 585.9,818 578,826.7 556.7,841.7 541,852.2 587.2,799.9 594.3,796.5 599.4,794 605.3,790 609,789.9 588.1,803.2 592,803.8 588.2,802.2 586,806.2 609.6,785.1 608.2,787.1 590.5,800.5 609.4,788.2 595,797.7 595.8,797 605.1,794.4 593.3,805.8 584.4,809.7 601.3,791.6 599,799 609.4,792.1 590.2,801.2 604.5,789.7 592.6,801 606.7,787.9 596.3,797.1 591.5,801.3 592,800.2 475.3,897.6 470.6,898.9 478.4,891.8 476.1,896.8 480.5,893.7 482.2,889.4 469.5,900.9 472,897.1 484.9,886.4 484.4,887.7 485.9,889.4 481.8,892.1 482.6,888.5 483.2,891.6 486.8,891.2"/>
<rect x="404.3" y="746.7" width="249.1" height="203.55" class="l"/>
<path d="M434.2 950.25v7.8M468.2 950.25v7.8M502.2 950.25v7.8M536.2 950.25v7.8M570.2 950.25v7.8M604.2 950.25v7.8M638.2 950.25v7.8" class="l"/>
<text transform="translate(434.2 977.8) scale(1.057 1)" font-size="16.5" text-anchor="middle">−1.5</text>
<text transform="translate(502.2 977.8) scale(1.057 1)" font-size="16.5" text-anchor="middle">−0.5</text>
<text transform="translate(570.2 977.8) scale(1.057 1)" font-size="16.5" text-anchor="middle">0.5</text>
<text transform="translate(638.2 977.8) scale(1.057 1)" font-size="16.5" text-anchor="middle">1.5</text>
<path d="M404.3 926.35h-7.8M404.3 898.6h-7.8M404.3 870.85h-7.8M404.3 843.1h-7.8M404.3 815.35h-7.8M404.3 787.6h-7.8M404.3 759.85h-7.8" class="l"/>
<text transform="translate(386.9 926.35) scale(1.03 1) rotate(-90)" font-size="17.5" text-anchor="middle">−1.5</text>
<text transform="translate(386.9 870.85) scale(1.03 1) rotate(-90)" font-size="17.5" text-anchor="middle">−0.5</text>
<text transform="translate(386.9 815.35) scale(1.03 1) rotate(-90)" font-size="17.5" text-anchor="middle">0.5</text>
<text transform="translate(386.9 759.85) scale(1.03 1) rotate(-90)" font-size="17.5" text-anchor="middle">1.5</text>
<text transform="translate(527.9 721.05) scale(0.965 1)" font-size="16.2" text-anchor="middle" font-weight="bold" stroke="#000" stroke-width="0.3">Log Parameter, S2</text>
<text transform="translate(528.8 1007.7) scale(0.99 1)" font-size="17.8" text-anchor="middle">EMIM</text>
<text transform="translate(356.5 848.4) scale(0.99 1) rotate(-90)" font-size="17.8" text-anchor="middle">LEM</text>
<text transform="translate(425 770.8) scale(0.88 1)" font-size="21" text-anchor="middle">F</text>
<line x1="61.8" y1="1292.75" x2="310.9" y2="1089.2" class="l"/>
<polyline class="q" points="77.2,1281 85,1275.8 76.9,1280.7 75.8,1281.1 80.8,1278.7 78.8,1279.6 78.5,1280.6 77.7,1281 97.5,1264 83.5,1276.6 94.2,1266.7 76.6,1281 82.1,1276.5 78.1,1280.4 84.5,1275.6 82.5,1276.2 106.1,1257.2 85.6,1273.5 83.1,1276 98.1,1264.8 93.5,1270.2 106.6,1256.5 92.5,1268.7 80,1278.3 84.8,1274.2 83,1277.7 84,1277.7 84.6,1274.4 81.9,1277.6 93.2,1267.3 79.5,1278.6 88.6,1271.3 90.8,1270.2 87.9,1271.4 85,1273.9 81.5,1278.4 88.2,1272.3 86.4,1273.4 80.1,1281.4 90.2,1270.8 79.3,1281.1 80.8,1277.5 89,1270.7 86.1,1273 87,1272.3 81,1277.2 88.3,1273.5 78.2,1279.4 90.1,1271.3 91.5,1269.4 92,1268.2 84,1277.3 76.7,1280.8 87.9,1273.5 86,1274.2 86.8,1273.7 89.2,1272.2 83.9,1275.7 97.8,1264.9 85.3,1274.4 79.6,1279.8 82,1277.4 103.9,1259 92.2,1269.9 79.4,1280.6 96.4,1264.6 87.5,1272.2 94.8,1266.3 80,1279.5 83.9,1277.7 82.1,1279 89.4,1273.9 88.9,1273.2 79.2,1278.9 88.8,1271.8 89.5,1270.2 81.7,1281.2 86,1275.3 91.2,1269.4 85.5,1276.3 85.6,1277.5 83.9,1274.8 98.8,1262.7 103.2,1260.4 83.1,1277.3 94.4,1267.3 93.7,1268.3 81.1,1278.7 96.2,1265.7 80.4,1280.4 95.8,1265 102.6,1259.9 79.9,1278.3 117.8,1247.1 94.5,1267.2 84,1276.5 98.4,1263.2 78.6,1281 100,1262.1 100.8,1261.9 91.1,1271.4 88.4,1271.1 93.1,1269.2 110.1,1253.4 85.6,1274.5 95.5,1266.1 96.8,1264.2 89.7,1270.3 91.5,1270 109,1254.3 93.9,1269.7 102.2,1260.1 103.3,1259.4 112.7,1251.6 81.4,1279.9 82.6,1279.2 84,1277.1 98.5,1263.9 105.2,1258.8 92.8,1267.8 82.1,1279.5 97.8,1263.6 81.6,1276.6 86.4,1274.7 92.3,1268.9 99.6,1262.4 104.1,1258.7 101.3,1261.1 90.5,1270.9 85.5,1277.8 114.6,1249.7 109.6,1254 99.3,1263.3 108.4,1254.9 107.3,1255.8 100.4,1262.7 81,1281 91.3,1270.4 87.8,1276.4 115.6,1249 90.4,1269.4 83.4,1278.8 103.2,1261.3 94.9,1267.9 94.7,1268.3 88.4,1273.8 101.4,1260.7 84.7,1278.9 105.1,1257.5 107.6,1256.2 97,1264.8 87.9,1273.7 100.8,1261.3 93.1,1268.6 94.3,1266.4 96.1,1265.2 101.4,1262.1 83,1280.1 86.3,1272.8 106,1256.7 98.8,1265.8 83.1,1278.8 80.9,1280 87.8,1275.3 77.5,1280 117.2,1247.7 86.7,1276.9 109,1254.6 104,1259.6 109.8,1254.5 101.8,1261 93.4,1267.1 100.8,1262.6 90,1272 100.5,1264.6 111.1,1252.6 95.9,1267.8 95.4,1266.9 91.4,1272.6 86.6,1276.1 100.8,1263.5 84.1,1279.6 92.2,1271.3 82.6,1281.1 84.9,1277.1 119.9,1245.4 112,1251.9 96.9,1266.2 105.4,1258.2 109.1,1255.5 110.7,1252.8 85.9,1276.4 86.5,1275.7 89.7,1273.2 102.8,1261.2 104.8,1257.8 117,1248 101.4,1263.7 116.2,1248.4 119.5,1245.9 82.1,1280 96.4,1266.9 97.8,1266.5 98.9,1264.3 121.1,1244.4 87.5,1275.1 114.1,1250.2 88.7,1274.7 85.8,1278.6 85.7,1277.7 95.1,1270 102,1260 89.7,1273.9 93.1,1272.5 91.3,1271.5 91,1275.3 108.1,1255.2 93.3,1271.6 98,1265.9 115.7,1248.8 98.6,1264.8 87.8,1278.4 94.5,1269 82.4,1276 101.7,1261.9 88.5,1275.6 120.3,1245 124.9,1241.3 128.9,1238 136.9,1231.4 141.5,1227.7 145.8,1224.2 175.4,1200.1 177.9,1198 207.9,1173.5 237.5,1149.4 243.9,1144.1 274.8,1118.9 303.5,1095.5"/>
<rect x="61.8" y="1089.2" width="249.1" height="203.55" class="l"/>
<path d="M75.6 1292.75v7.8M150.95 1292.75v7.8M226.3 1292.75v7.8M301.65 1292.75v7.8" class="l"/>
<text transform="translate(75.6 1320.3) scale(1.057 1)" font-size="16.5" text-anchor="middle">0</text>
<text transform="translate(150.95 1320.3) scale(1.057 1)" font-size="16.5" text-anchor="middle">5</text>
<text transform="translate(226.3 1320.3) scale(1.057 1)" font-size="16.5" text-anchor="middle">10</text>
<text transform="translate(301.65 1320.3) scale(1.057 1)" font-size="16.5" text-anchor="middle">15</text>
<path d="M61.8 1281.5h-7.8M61.8 1220h-7.8M61.8 1158.5h-7.8M61.8 1097h-7.8" class="l"/>
<text transform="translate(44.4 1281.5) scale(1.03 1) rotate(-90)" font-size="17.5" text-anchor="middle">0</text>
<text transform="translate(44.4 1220) scale(1.03 1) rotate(-90)" font-size="17.5" text-anchor="middle">5</text>
<text transform="translate(44.4 1158.5) scale(1.03 1) rotate(-90)" font-size="17.5" text-anchor="middle">10</text>
<text transform="translate(44.4 1097) scale(1.03 1) rotate(-90)" font-size="17.5" text-anchor="middle">15</text>
<text transform="translate(123 1062.8) scale(1.03 1)" font-size="15.2" text-anchor="start">−</text>
<text transform="translate(134.2 1062.8) scale(1.03 1)" font-size="15.2" text-anchor="start">log</text>
<text transform="translate(156.2 1065.6) scale(1.0 1)" font-size="10.6" text-anchor="start">10</text>
<text transform="translate(168.6 1062.8) scale(1.03 1)" font-size="15.2" text-anchor="start">(p</text>
<text transform="translate(185.4 1062.8) scale(1.03 1)" font-size="15.2" text-anchor="start">−</text>
<text transform="translate(197.5 1062.8) scale(1.045 1)" font-size="15.2" text-anchor="start">values)</text>
<text transform="translate(186.3 1350.2) scale(0.99 1)" font-size="17.8" text-anchor="middle">EMIM</text>
<text transform="translate(14 1190.9) scale(0.99 1) rotate(-90)" font-size="17.8" text-anchor="middle">LEM</text>
<text transform="translate(82.5 1113.3) scale(0.93 1)" font-size="21" text-anchor="middle">G</text>
</svg></body></html>
